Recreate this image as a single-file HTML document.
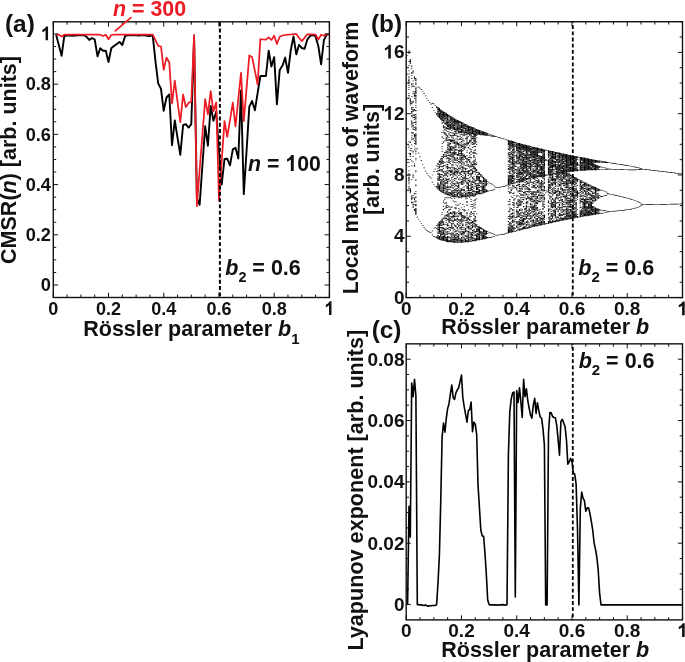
<!DOCTYPE html>
<html><head><meta charset="utf-8"><title>Figure</title>
<style>svg{will-change:transform;}html,body{margin:0;padding:0;background:#fff;}body{width:685px;height:662px;overflow:hidden;font-family:"Liberation Sans",sans-serif;}svg{display:block;}</style>
</head><body>
<svg width="685" height="662" viewBox="0 0 685 662" font-family="Liberation Sans, sans-serif" font-weight="bold">
<rect width="685" height="662" fill="#fff"/>
<g transform="translate(406.2,21.7)" fill="none" stroke="#000"><path transform="translate(0,0.0) scale(1,0.5)" d="M2.76 57.8v2.4m0 0.6v1.4m0 0.6v1.4m0 14.6v1.4m0 6.6v1.4m0 9.6v1.4m0 4.6v1.4m0 4.6v1.4m0 0.6v1.4m0 1.6v1.4m0 0.6v3.4m0 0.6v2.4m0 0.6v1.4m0 1.6v1.4m0 2.6v1.4m0 2.6v1.4m0 6.6v1.4m0 2.6v2.4m0 2.6v1.4m0 86.6v1.4m0 6.6v1.4m0 1.6v1.4m0 10.6v1.4m0 16.6v1.4m0 6.6v1.4m0 7.6v1.4m0 3.6v1.4m0 1.6v1.4m0 0.6v1.4m0 1.6v5.4m0 0.6v2.4m0 1.6v1.4m0 1.6v1.4m0 3.6v1.4m0 1.6v1.4m0 0.6v1.4M4.14 74.8v1.4m0 0.6v4.4m0 0.6v2.4m0 69.6v1.4m0 0.6v3.4m0 0.6v2.4m0 0.6v1.4m0 1.6v1.4m0 72.6v2.4m0 11.6v1.4m0 1.6v1.4m0 4.6v4.4m0 1.6v1.4m0 4.6v1.4m0 57.6v7.4m0 0.6v1.4M5.53 87.8v2.4m0 2.6v1.4m0 6.6v1.4m0 0.6v1.4m0 2.6v1.4m0 4.6v1.4m0 9.6v1.4m0 0.6v1.4m0 2.6v1.4m0 17.6v1.4m0 9.6v1.4m0 1.6v2.4m0 5.6v1.4m0 0.6v1.4m0 0.6v1.4m0 2.6v3.4m0 0.6v1.4m0 2.6v1.4m0 0.6v1.4m0 7.6v1.4m0 0.6v2.4m0 1.6v1.4m0 0.6v1.4m0 2.6v1.4m0 9.6v2.4m0 4.6v1.4m0 2.6v1.4m0 1.6v1.4m0 9.6v1.4m0 5.6v1.4m0 3.6v1.4m0 18.6v1.4m0 8.6v1.4m0 25.6v1.4m0 31.6v1.4m0 0.6v2.4m0 0.6v3.4m0 3.6v3.4M6.91 97.8v2.4m0 1.6v1.4m0 14.6v1.4m0 4.6v1.4m0 2.6v2.4m0 9.6v1.4m0 1.6v1.4m0 14.6v3.4m0 8.6v1.4m0 2.6v1.4m0 0.6v1.4m0 0.6v1.4m0 5.6v1.4m0 0.6v1.4m0 1.6v1.4m0 9.6v2.4m0 2.6v2.4m0 0.6v1.4m0 2.6v2.4m0 5.6v1.4m0 0.6v1.4m0 7.6v1.4m0 1.6v1.4m0 21.6v1.4m0 1.6v1.4m0 5.6v1.4m0 9.6v1.4m0 24.6v2.4m0 1.6v2.4m0 34.6v1.4m0 3.6v1.4m0 8.6v1.4m0 1.6v2.4m0 1.6v1.4m0 0.6v1.4M8.29 109.8v1.4m0 0.6v3.4m0 13.6v1.4m0 9.6v1.4m0 2.6v1.4m0 0.6v4.4m0 2.6v1.4m0 20.6v3.4m0 7.6v1.4m0 0.6v1.4m0 1.6v2.4m0 1.6v1.4m0 4.6v1.4m0 8.6v1.4m0 2.6v1.4m0 8.6v1.4m0 0.6v3.4m0 1.6v1.4m0 4.6v1.4m0 3.6v1.4m0 5.6v1.4m0 4.6v1.4m0 26.6v1.4m0 1.6v3.4m0 52.6v2.4m0 6.6v1.4m0 0.6v3.4m0 2.6v1.4m0 4.6v1.4m0 7.6v3.4M9.67 112.8v1.4m0 0.6v1.4m0 0.6v2.4m0 2.6v1.4m0 0.6v2.4m0 5.6v3.4m0 0.6v1.4m0 0.6v7.4m0 1.6v3.4m0 1.6v2.4m0 1.6v2.4m0 1.6v1.4m0 0.6v1.4m0 3.6v1.4m0 2.6v1.4m0 4.6v2.4m0 5.6v2.4m0 1.6v1.4m0 0.6v1.4m0 0.6v1.4m0 1.6v1.4m0 1.6v1.4m0 0.6v2.4m0 1.6v1.4m0 3.6v2.4m0 0.6v3.4m0 0.6v1.4m0 4.6v1.4m0 0.6v1.4m0 0.6v2.4m0 0.6v1.4m0 0.6v1.4m0 0.6v2.4m0 0.6v1.4m0 0.6v2.4m0 0.6v4.4m0 6.6v1.4m0 3.6v1.4m0 0.6v1.4m0 2.6v1.4m0 7.6v1.4m0 1.6v1.4m0 20.6v1.4m0 0.6v1.4m0 14.6v2.4m0 7.6v1.4m0 0.6v1.4m0 9.6v1.4m0 3.6v1.4m0 4.6v1.4m0 0.6v1.4m0 4.6v1.4m0 0.6v1.4m0 3.6v4.4m0 3.6v13.4M30.39 168.8v1.4m0 0.6v1.4m0 10.6v1.4m0 0.6v1.4m0 101.6v1.4m0 9.6v1.4m0 28.6v1.4m0 1.6v1.4m0 73.6v1.4m0 4.6v1.4m0 15.6v1.4m0 0.6v1.4M31.77 170.8v7.4m0 0.6v2.4m0 0.6v4.4m0 0.6v3.4m0 92.6v3.4m0 2.6v1.4m0 2.6v1.4m0 2.6v1.4m0 1.6v1.4m0 1.6v1.4m0 0.6v1.4m0 3.6v1.4m0 1.6v3.4m0 0.6v1.4m0 3.6v5.4m0 0.6v3.4m0 0.6v3.4m0 68.6v2.4m0 0.6v1.4m0 1.6v1.4m0 0.6v1.4m0 0.6v3.4m0 2.6v1.4m0 0.6v1.4m0 0.6v1.4m0 1.6v2.4m0 0.6v5.4M33.16 172.8v7.4m0 1.6v11.4m0 84.6v4.4m0 2.6v1.4m0 1.6v2.4m0 0.6v2.4m0 2.6v3.4m0 3.6v1.4m0 0.6v3.4m0 0.6v1.4m0 0.6v2.4m0 0.6v2.4m0 0.6v1.4m0 7.6v1.4m0 0.6v10.4m0 61.6v4.4m0 0.6v5.4m0 0.6v3.4m0 0.6v6.4m0 0.6v2.4m0 4.6v7.4M34.54 175.8v12.4m0 0.6v2.4m0 0.6v4.4m0 77.6v2.4m0 1.6v3.4m0 0.6v1.4m0 0.6v1.4m0 0.6v1.4m0 1.6v1.4m0 4.6v1.4m0 1.6v1.4m0 5.6v2.4m0 1.6v3.4m0 2.6v1.4m0 1.6v2.4m0 0.6v4.4m0 0.6v1.4m0 0.6v2.4m0 1.6v2.4m0 1.6v4.4m0 57.6v1.4m0 0.6v2.4m0 0.6v3.4m0 0.6v1.4m0 2.6v2.4m0 3.6v1.4m0 0.6v2.4m0 0.6v1.4m0 0.6v5.4m0 0.6v1.4m0 0.6v1.4m0 0.6v3.4M35.92 177.8v6.4m0 0.6v14.4m0 2.6v2.4m0 16.6v1.4m0 7.6v2.4m0 10.6v1.4m0 4.6v1.4m0 3.6v1.4m0 3.6v1.4m0 8.6v2.4m0 1.6v2.4m0 0.6v4.4m0 0.6v3.4m0 4.6v2.4m0 3.6v4.4m0 0.6v1.4m0 3.6v2.4m0 3.6v1.4m0 2.6v1.4m0 0.6v1.4m0 0.6v1.4m0 1.6v1.4m0 0.6v1.4m0 0.6v1.4m0 2.6v2.4m0 0.6v1.4m0 1.6v1.4m0 0.6v4.4m0 38.6v1.4m0 2.6v1.4m0 7.6v2.4m0 0.6v6.4m0 2.6v2.4m0 2.6v3.4m0 1.6v2.4m0 1.6v1.4m0 0.6v2.4m0 0.6v2.4m0 1.6v1.4m0 0.6v7.4M37.30 179.8v10.4m0 0.6v1.4m0 0.6v1.4m0 1.6v3.4m0 0.6v2.4m0 4.6v1.4m0 0.6v1.4m0 0.6v2.4m0 4.6v1.4m0 2.6v1.4m0 9.6v1.4m0 5.6v2.4m0 22.6v3.4m0 0.6v1.4m0 0.6v1.4m0 6.6v1.4m0 1.6v2.4m0 2.6v1.4m0 0.6v1.4m0 2.6v1.4m0 4.6v1.4m0 0.6v1.4m0 4.6v1.4m0 0.6v1.4m0 2.6v1.4m0 0.6v2.4m0 1.6v1.4m0 1.6v1.4m0 1.6v1.4m0 0.6v2.4m0 0.6v2.4m0 0.6v2.4m0 0.6v4.4m0 0.6v2.4m0 14.6v1.4m0 1.6v1.4m0 6.6v1.4m0 4.6v2.4m0 14.6v1.4m0 0.6v1.4m0 4.6v1.4m0 0.6v2.4m0 0.6v2.4m0 4.6v3.4m0 1.6v1.4m0 0.6v1.4m0 0.6v4.4m0 0.6v1.4m0 1.6v9.4M38.68 180.8v2.4m0 0.6v7.4m0 0.6v4.4m0 1.6v1.4m0 2.6v3.4m0 3.6v1.4m0 1.6v1.4m0 1.6v2.4m0 3.6v2.4m0 0.6v2.4m0 11.6v1.4m0 21.6v2.4m0 2.6v1.4m0 1.6v1.4m0 10.6v1.4m0 4.6v1.4m0 11.6v1.4m0 1.6v3.4m0 0.6v1.4m0 3.6v1.4m0 3.6v1.4m0 1.6v2.4m0 0.6v3.4m0 0.6v2.4m0 0.6v1.4m0 0.6v3.4m0 2.6v1.4m0 2.6v3.4m0 6.6v1.4m0 1.6v1.4m0 6.6v1.4m0 8.6v1.4m0 13.6v2.4m0 1.6v1.4m0 0.6v1.4m0 9.6v1.4m0 6.6v1.4m0 0.6v3.4m0 1.6v1.4m0 1.6v1.4m0 0.6v1.4m0 0.6v7.4m0 0.6v1.4m0 0.6v2.4M40.06 182.8v7.4m0 0.6v1.4m0 0.6v1.4m0 1.6v2.4m0 0.6v1.4m0 0.6v6.4m0 3.6v4.4m0 1.6v1.4m0 5.6v1.4m0 0.6v1.4m0 0.6v1.4m0 1.6v1.4m0 0.6v2.4m0 0.6v1.4m0 0.6v1.4m0 18.6v2.4m0 0.6v2.4m0 2.6v1.4m0 0.6v3.4m0 2.6v1.4m0 4.6v1.4m0 4.6v1.4m0 1.6v1.4m0 1.6v1.4m0 4.6v2.4m0 1.6v1.4m0 0.6v1.4m0 0.6v1.4m0 0.6v1.4m0 3.6v1.4m0 0.6v2.4m0 0.6v1.4m0 1.6v1.4m0 0.6v1.4m0 5.6v2.4m0 1.6v2.4m0 1.6v1.4m0 0.6v4.4m0 0.6v1.4m0 4.6v1.4m0 8.6v1.4m0 1.6v1.4m0 1.6v1.4m0 0.6v1.4m0 0.6v2.4m0 12.6v3.4m0 2.6v3.4m0 1.6v1.4m0 2.6v1.4m0 3.6v1.4m0 4.6v1.4m0 1.6v1.4m0 3.6v1.4m0 0.6v1.4m0 1.6v1.4m0 4.6v3.4m0 0.6v5.4M41.44 184.8v7.4m0 0.6v4.4m0 0.6v1.4m0 0.6v3.4m0 0.6v2.4m0 0.6v4.4m0 1.6v2.4m0 3.6v1.4m0 6.6v1.4m0 0.6v1.4m0 1.6v1.4m0 2.6v2.4m0 3.6v1.4m0 2.6v1.4m0 0.6v1.4m0 1.6v1.4m0 1.6v1.4m0 0.6v1.4m0 1.6v1.4m0 1.6v2.4m0 2.6v1.4m0 2.6v1.4m0 0.6v1.4m0 5.6v1.4m0 3.6v2.4m0 1.6v3.4m0 0.6v2.4m0 2.6v1.4m0 1.6v1.4m0 0.6v1.4m0 3.6v1.4m0 0.6v1.4m0 3.6v2.4m0 1.6v2.4m0 0.6v1.4m0 0.6v1.4m0 2.6v2.4m0 0.6v2.4m0 1.6v1.4m0 1.6v2.4m0 1.6v2.4m0 0.6v2.4m0 4.6v1.4m0 13.6v1.4m0 2.6v1.4m0 6.6v1.4m0 0.6v1.4m0 2.6v1.4m0 0.6v1.4m0 0.6v1.4m0 3.6v1.4m0 0.6v1.4m0 6.6v1.4m0 0.6v3.4m0 3.6v2.4m0 3.6v1.4m0 1.6v1.4m0 0.6v2.4m0 2.6v5.4m0 0.6v6.4M42.83 186.8v3.4m0 1.6v1.4m0 2.6v2.4m0 0.6v2.4m0 0.6v1.4m0 0.6v7.4m0 0.6v4.4m0 3.6v1.4m0 1.6v1.4m0 0.6v1.4m0 4.6v1.4m0 2.6v3.4m0 3.6v2.4m0 0.6v2.4m0 0.6v1.4m0 0.6v1.4m0 2.6v4.4m0 1.6v1.4m0 0.6v1.4m0 2.6v3.4m0 2.6v4.4m0 0.6v3.4m0 0.6v2.4m0 7.6v2.4m0 3.6v3.4m0 3.6v1.4m0 7.6v1.4m0 0.6v1.4m0 1.6v1.4m0 10.6v1.4m0 0.6v1.4m0 1.6v1.4m0 4.6v3.4m0 0.6v3.4m0 3.6v1.4m0 15.6v2.4m0 3.6v1.4m0 0.6v1.4m0 4.6v3.4m0 0.6v1.4m0 0.6v1.4m0 0.6v1.4m0 0.6v1.4m0 0.6v7.4m0 4.6v1.4m0 2.6v2.4m0 1.6v1.4m0 3.6v1.4m0 1.6v1.4m0 5.6v2.4m0 4.6v4.4M44.21 188.8v3.4m0 0.6v2.4m0 0.6v2.4m0 1.6v3.4m0 1.6v1.4m0 0.6v3.4m0 0.6v2.4m0 0.6v2.4m0 4.6v1.4m0 4.6v2.4m0 6.6v3.4m0 0.6v1.4m0 1.6v2.4m0 3.6v1.4m0 0.6v6.4m0 0.6v1.4m0 0.6v3.4m0 2.6v2.4m0 0.6v1.4m0 3.6v2.4m0 3.6v1.4m0 1.6v1.4m0 7.6v1.4m0 0.6v1.4m0 1.6v1.4m0 0.6v3.4m0 2.6v1.4m0 0.6v1.4m0 9.6v1.4m0 4.6v1.4m0 3.6v1.4m0 0.6v1.4m0 2.6v1.4m0 4.6v1.4m0 0.6v3.4m0 1.6v1.4m0 1.6v1.4m0 19.6v1.4m0 1.6v1.4m0 4.6v3.4m0 5.6v1.4m0 1.6v1.4m0 1.6v2.4m0 3.6v1.4m0 7.6v2.4m0 2.6v2.4m0 4.6v1.4m0 1.6v1.4m0 3.6v1.4m0 0.6v1.4m0 1.6v1.4m0 0.6v3.4M45.59 189.8v10.4m0 1.6v5.4m0 0.6v4.4m0 0.6v1.4m0 2.6v1.4m0 3.6v1.4m0 3.6v1.4m0 1.6v2.4m0 2.6v1.4m0 0.6v4.4m0 7.6v1.4m0 1.6v1.4m0 0.6v4.4m0 3.6v1.4m0 0.6v1.4m0 0.6v1.4m0 0.6v1.4m0 0.6v1.4m0 2.6v1.4m0 2.6v1.4m0 5.6v1.4m0 1.6v1.4m0 1.6v1.4m0 3.6v2.4m0 0.6v4.4m0 1.6v1.4m0 4.6v2.4m0 2.6v1.4m0 2.6v1.4m0 0.6v1.4m0 2.6v2.4m0 1.6v2.4m0 5.6v4.4m0 0.6v4.4m0 0.6v2.4m0 2.6v1.4m0 15.6v2.4m0 9.6v3.4m0 3.6v2.4m0 0.6v1.4m0 2.6v1.4m0 0.6v1.4m0 3.6v1.4m0 0.6v1.4m0 0.6v1.4m0 0.6v3.4m0 0.6v1.4m0 7.6v1.4m0 0.6v2.4m0 1.6v1.4m0 0.6v2.4m0 1.6v7.4M46.97 191.8v6.4m0 0.6v4.4m0 0.6v2.4m0 0.6v9.4m0 5.6v1.4m0 0.6v1.4m0 1.6v2.4m0 2.6v1.4m0 0.6v1.4m0 1.6v3.4m0 1.6v2.4m0 5.6v3.4m0 0.6v1.4m0 2.6v1.4m0 1.6v4.4m0 0.6v2.4m0 0.6v2.4m0 0.6v1.4m0 2.6v1.4m0 1.6v1.4m0 0.6v1.4m0 3.6v2.4m0 2.6v1.4m0 1.6v1.4m0 2.6v1.4m0 2.6v4.4m0 1.6v1.4m0 0.6v1.4m0 4.6v1.4m0 2.6v1.4m0 1.6v2.4m0 1.6v1.4m0 3.6v2.4m0 2.6v2.4m0 1.6v3.4m0 1.6v5.4m0 6.6v1.4m0 19.6v1.4m0 0.6v1.4m0 1.6v1.4m0 1.6v4.4m0 0.6v1.4m0 3.6v1.4m0 0.6v2.4m0 1.6v2.4m0 5.6v1.4m0 0.6v2.4m0 2.6v1.4m0 2.6v1.4m0 0.6v1.4m0 0.6v1.4m0 0.6v1.4m0 1.6v1.4m0 1.6v4.4m0 0.6v3.4M48.35 193.8v8.4m0 0.6v1.4m0 0.6v1.4m0 0.6v2.4m0 1.6v6.4m0 1.6v1.4m0 2.6v1.4m0 0.6v3.4m0 7.6v2.4m0 1.6v4.4m0 3.6v1.4m0 1.6v1.4m0 1.6v2.4m0 1.6v2.4m0 0.6v1.4m0 0.6v2.4m0 0.6v1.4m0 3.6v2.4m0 0.6v1.4m0 0.6v2.4m0 2.6v1.4m0 9.6v1.4m0 0.6v1.4m0 0.6v1.4m0 1.6v1.4m0 0.6v2.4m0 0.6v1.4m0 0.6v1.4m0 5.6v2.4m0 1.6v1.4m0 4.6v1.4m0 0.6v1.4m0 3.6v1.4m0 3.6v1.4m0 0.6v1.4m0 1.6v2.4m0 1.6v4.4m0 0.6v2.4m0 1.6v1.4m0 5.6v1.4m0 10.6v1.4m0 5.6v1.4m0 0.6v2.4m0 0.6v2.4m0 1.6v3.4m0 2.6v4.4m0 7.6v1.4m0 0.6v1.4m0 5.6v1.4m0 3.6v1.4m0 4.6v2.4m0 0.6v2.4m0 0.6v1.4m0 0.6v3.4m0 0.6v4.4M49.73 194.8v1.4m0 0.6v9.4m0 1.6v2.4m0 1.6v2.4m0 0.6v3.4m0 0.6v2.4m0 0.6v1.4m0 0.6v1.4m0 1.6v1.4m0 5.6v1.4m0 4.6v1.4m0 0.6v2.4m0 0.6v1.4m0 0.6v1.4m0 0.6v3.4m0 2.6v3.4m0 2.6v2.4m0 0.6v2.4m0 7.6v1.4m0 0.6v2.4m0 3.6v1.4m0 2.6v1.4m0 5.6v2.4m0 1.6v1.4m0 0.6v2.4m0 0.6v1.4m0 2.6v1.4m0 0.6v1.4m0 3.6v2.4m0 4.6v1.4m0 2.6v1.4m0 1.6v2.4m0 3.6v1.4m0 0.6v1.4m0 0.6v1.4m0 1.6v2.4m0 2.6v1.4m0 1.6v3.4m0 8.6v1.4m0 4.6v1.4m0 3.6v1.4m0 0.6v2.4m0 6.6v2.4m0 1.6v1.4m0 1.6v1.4m0 4.6v1.4m0 0.6v1.4m0 8.6v1.4m0 0.6v2.4m0 5.6v1.4m0 0.6v2.4m0 2.6v1.4m0 0.6v1.4m0 0.6v1.4m0 1.6v3.4m0 0.6v2.4m0 0.6v1.4m0 0.6v2.4M51.12 196.8v6.4m0 0.6v1.4m0 0.6v1.4m0 0.6v2.4m0 0.6v6.4m0 0.6v1.4m0 3.6v1.4m0 3.6v2.4m0 1.6v1.4m0 2.6v1.4m0 2.6v1.4m0 0.6v4.4m0 9.6v1.4m0 7.6v3.4m0 2.6v1.4m0 0.6v2.4m0 1.6v1.4m0 2.6v1.4m0 4.6v1.4m0 1.6v1.4m0 3.6v2.4m0 1.6v4.4m0 0.6v1.4m0 4.6v2.4m0 7.6v2.4m0 0.6v1.4m0 3.6v1.4m0 0.6v1.4m0 1.6v1.4m0 2.6v3.4m0 1.6v7.4m0 0.6v1.4m0 15.6v1.4m0 13.6v1.4m0 4.6v1.4m0 0.6v1.4m0 1.6v2.4m0 0.6v1.4m0 1.6v1.4m0 2.6v1.4m0 0.6v1.4m0 4.6v2.4m0 0.6v1.4m0 2.6v1.4m0 3.6v2.4m0 2.6v1.4m0 0.6v2.4m0 1.6v6.4m0 0.6v1.4M52.50 197.8v8.4m0 0.6v2.4m0 0.6v2.4m0 0.6v3.4m0 0.6v1.4m0 0.6v4.4m0 5.6v1.4m0 4.6v1.4m0 6.6v5.4m0 1.6v1.4m0 0.6v1.4m0 3.6v3.4m0 0.6v1.4m0 0.6v1.4m0 0.6v3.4m0 6.6v1.4m0 2.6v2.4m0 2.6v1.4m0 6.6v1.4m0 0.6v1.4m0 1.6v1.4m0 0.6v1.4m0 1.6v1.4m0 3.6v1.4m0 5.6v2.4m0 5.6v1.4m0 0.6v2.4m0 0.6v6.4m0 2.6v1.4m0 0.6v1.4m0 1.6v2.4m0 0.6v1.4m0 3.6v2.4m0 0.6v1.4m0 12.6v1.4m0 5.6v1.4m0 3.6v2.4m0 2.6v2.4m0 2.6v2.4m0 4.6v1.4m0 1.6v1.4m0 1.6v1.4m0 3.6v1.4m0 0.6v2.4m0 5.6v1.4m0 2.6v1.4m0 3.6v2.4m0 0.6v4.4m0 0.6v2.4m0 0.6v2.4m0 1.6v2.4M53.88 198.8v4.4m0 2.6v1.4m0 0.6v1.4m0 0.6v7.4m0 1.6v4.4m0 2.6v1.4m0 2.6v1.4m0 1.6v3.4m0 4.6v1.4m0 2.6v1.4m0 1.6v1.4m0 2.6v1.4m0 2.6v4.4m0 2.6v2.4m0 1.6v1.4m0 1.6v1.4m0 0.6v2.4m0 0.6v1.4m0 1.6v1.4m0 0.6v3.4m0 3.6v1.4m0 1.6v1.4m0 1.6v2.4m0 5.6v1.4m0 0.6v2.4m0 0.6v1.4m0 4.6v1.4m0 2.6v1.4m0 3.6v2.4m0 10.6v1.4m0 1.6v1.4m0 0.6v2.4m0 0.6v1.4m0 0.6v4.4m0 1.6v2.4m0 10.6v1.4m0 11.6v1.4m0 3.6v4.4m0 0.6v1.4m0 7.6v1.4m0 0.6v3.4m0 2.6v2.4m0 1.6v1.4m0 2.6v2.4m0 0.6v1.4m0 3.6v1.4m0 0.6v1.4m0 1.6v1.4m0 8.6v2.4m0 0.6v3.4m0 0.6v1.4M55.26 200.8v5.4m0 0.6v6.4m0 1.6v8.4m0 1.6v1.4m0 4.6v1.4m0 2.6v1.4m0 2.6v2.4m0 2.6v1.4m0 1.6v2.4m0 0.6v2.4m0 2.6v3.4m0 0.6v2.4m0 0.6v3.4m0 0.6v3.4m0 1.6v2.4m0 0.6v1.4m0 0.6v2.4m0 1.6v1.4m0 1.6v1.4m0 1.6v1.4m0 2.6v2.4m0 3.6v1.4m0 1.6v3.4m0 2.6v1.4m0 2.6v2.4m0 3.6v1.4m0 2.6v3.4m0 0.6v1.4m0 0.6v1.4m0 7.6v3.4m0 0.6v1.4m0 1.6v1.4m0 1.6v2.4m0 0.6v4.4m0 0.6v1.4m0 18.6v1.4m0 7.6v1.4m0 0.6v1.4m0 0.6v2.4m0 0.6v2.4m0 1.6v1.4m0 0.6v2.4m0 1.6v1.4m0 0.6v1.4m0 0.6v1.4m0 6.6v2.4m0 1.6v1.4m0 0.6v1.4m0 2.6v1.4m0 1.6v1.4m0 0.6v2.4m0 3.6v2.4m0 0.6v2.4m0 0.6v5.4M56.64 201.8v3.4m0 0.6v8.4m0 0.6v7.4m0 2.6v1.4m0 1.6v1.4m0 3.6v1.4m0 1.6v2.4m0 1.6v1.4m0 3.6v1.4m0 1.6v3.4m0 1.6v1.4m0 2.6v2.4m0 4.6v1.4m0 0.6v1.4m0 0.6v1.4m0 0.6v1.4m0 0.6v1.4m0 0.6v1.4m0 0.6v1.4m0 2.6v1.4m0 0.6v1.4m0 2.6v1.4m0 1.6v1.4m0 0.6v2.4m0 0.6v2.4m0 0.6v1.4m0 0.6v2.4m0 5.6v1.4m0 2.6v1.4m0 0.6v1.4m0 0.6v1.4m0 0.6v1.4m0 0.6v2.4m0 0.6v1.4m0 0.6v2.4m0 5.6v1.4m0 1.6v1.4m0 0.6v1.4m0 4.6v2.4m0 0.6v5.4m0 13.6v1.4m0 8.6v1.4m0 10.6v3.4m0 0.6v2.4m0 1.6v1.4m0 0.6v1.4m0 0.6v1.4m0 3.6v5.4m0 1.6v1.4m0 2.6v1.4m0 2.6v6.4m0 0.6v1.4m0 2.6v1.4m0 0.6v1.4m0 2.6v3.4m0 0.6v2.4M58.02 203.8v5.4m0 0.6v5.4m0 2.6v1.4m0 0.6v3.4m0 0.6v4.4m0 9.6v1.4m0 3.6v1.4m0 0.6v1.4m0 1.6v2.4m0 0.6v2.4m0 0.6v2.4m0 9.6v6.4m0 2.6v1.4m0 5.6v2.4m0 1.6v1.4m0 4.6v1.4m0 0.6v1.4m0 3.6v2.4m0 0.6v3.4m0 4.6v1.4m0 0.6v3.4m0 1.6v2.4m0 2.6v1.4m0 6.6v1.4m0 3.6v4.4m0 1.6v1.4m0 3.6v1.4m0 0.6v3.4m0 18.6v1.4m0 3.6v1.4m0 0.6v1.4m0 1.6v1.4m0 6.6v5.4m0 0.6v1.4m0 2.6v1.4m0 12.6v1.4m0 2.6v1.4m0 1.6v1.4m0 0.6v2.4m0 0.6v1.4m0 2.6v1.4m0 2.6v2.4m0 0.6v1.4m0 1.6v3.4M59.40 204.8v3.4m0 0.6v2.4m0 1.6v3.4m0 0.6v2.4m0 0.6v3.4m0 2.6v1.4m0 5.6v1.4m0 9.6v1.4m0 0.6v1.4m0 2.6v1.4m0 0.6v1.4m0 15.6v2.4m0 0.6v2.4m0 4.6v1.4m0 6.6v1.4m0 4.6v1.4m0 0.6v2.4m0 1.6v2.4m0 2.6v1.4m0 0.6v3.4m0 0.6v1.4m0 0.6v1.4m0 0.6v2.4m0 1.6v2.4m0 6.6v1.4m0 11.6v1.4m0 1.6v3.4m0 0.6v1.4m0 0.6v2.4m0 2.6v1.4m0 21.6v1.4m0 11.6v1.4m0 0.6v1.4m0 3.6v1.4m0 3.6v1.4m0 2.6v2.4m0 4.6v4.4m0 0.6v3.4m0 5.6v1.4m0 0.6v1.4m0 3.6v7.4M60.79 205.8v2.4m0 0.6v4.4m0 0.6v1.4m0 0.6v3.4m0 0.6v7.4m0 2.6v6.4m0 1.6v2.4m0 0.6v1.4m0 0.6v3.4m0 0.6v1.4m0 9.6v1.4m0 1.6v1.4m0 4.6v1.4m0 4.6v3.4m0 1.6v2.4m0 0.6v2.4m0 2.6v2.4m0 4.6v1.4m0 4.6v1.4m0 1.6v1.4m0 9.6v2.4m0 4.6v5.4m0 3.6v2.4m0 0.6v2.4m0 3.6v1.4m0 2.6v1.4m0 0.6v1.4m0 0.6v4.4m0 1.6v2.4m0 4.6v3.4m0 3.6v2.4m0 12.6v1.4m0 0.6v2.4m0 2.6v1.4m0 2.6v2.4m0 0.6v1.4m0 0.6v2.4m0 1.6v2.4m0 1.6v1.4m0 2.6v1.4m0 0.6v1.4m0 5.6v2.4m0 3.6v1.4m0 2.6v1.4m0 0.6v1.4m0 0.6v2.4m0 2.6v4.4M62.17 207.8v11.4m0 0.6v2.4m0 0.6v2.4m0 3.6v1.4m0 10.6v1.4m0 0.6v2.4m0 5.6v2.4m0 17.6v1.4m0 2.6v3.4m0 6.6v1.4m0 1.6v2.4m0 6.6v1.4m0 0.6v3.4m0 0.6v2.4m0 1.6v1.4m0 5.6v1.4m0 1.6v2.4m0 2.6v2.4m0 0.6v3.4m0 0.6v1.4m0 0.6v5.4m0 0.6v2.4m0 1.6v3.4m0 1.6v2.4m0 0.6v1.4m0 25.6v1.4m0 13.6v1.4m0 0.6v3.4m0 3.6v1.4m0 0.6v2.4m0 3.6v2.4m0 0.6v2.4m0 0.6v1.4m0 3.6v3.4m0 1.6v1.4m0 0.6v1.4m0 0.6v4.4m0 0.6v1.4m0 0.6v2.4m0 0.6v3.4M63.55 208.8v5.4m0 0.6v5.4m0 0.6v3.4m0 0.6v3.4m0 8.6v5.4m0 5.6v1.4m0 4.6v1.4m0 5.6v1.4m0 0.6v1.4m0 3.6v1.4m0 1.6v1.4m0 2.6v1.4m0 1.6v4.4m0 5.6v2.4m0 1.6v1.4m0 3.6v3.4m0 3.6v2.4m0 4.6v1.4m0 3.6v2.4m0 0.6v2.4m0 5.6v1.4m0 5.6v1.4m0 1.6v2.4m0 1.6v3.4m0 0.6v2.4m0 0.6v2.4m0 0.6v1.4m0 31.6v1.4m0 2.6v1.4m0 0.6v1.4m0 3.6v3.4m0 3.6v2.4m0 0.6v1.4m0 2.6v1.4m0 1.6v2.4m0 1.6v1.4m0 2.6v1.4m0 0.6v1.4m0 2.6v1.4m0 3.6v2.4m0 1.6v1.4m0 0.6v1.4m0 0.6v1.4M64.93 209.8v7.4m0 0.6v2.4m0 0.6v4.4m0 0.6v1.4m0 0.6v2.4m0 1.6v1.4m0 0.6v2.4m0 0.6v1.4m0 1.6v1.4m0 2.6v1.4m0 9.6v2.4m0 1.6v2.4m0 3.6v1.4m0 4.6v2.4m0 8.6v2.4m0 0.6v1.4m0 1.6v3.4m0 3.6v3.4m0 4.6v2.4m0 0.6v1.4m0 0.6v2.4m0 8.6v1.4m0 1.6v2.4m0 0.6v1.4m0 0.6v1.4m0 1.6v8.4m0 2.6v2.4m0 0.6v1.4m0 0.6v3.4m0 5.6v1.4m0 2.6v1.4m0 4.6v1.4m0 2.6v1.4m0 8.6v1.4m0 0.6v2.4m0 1.6v1.4m0 2.6v1.4m0 7.6v1.4m0 1.6v3.4m0 2.6v1.4m0 3.6v2.4m0 0.6v1.4m0 4.6v1.4m0 0.6v4.4m0 0.6v5.4m0 0.6v2.4m0 1.6v2.4M66.31 210.8v14.4m0 3.6v1.4m0 1.6v3.4m0 5.6v2.4m0 1.6v1.4m0 4.6v1.4m0 9.6v1.4m0 16.6v1.4m0 3.6v3.4m0 0.6v1.4m0 3.6v1.4m0 1.6v1.4m0 0.6v1.4m0 0.6v4.4m0 5.6v3.4m0 3.6v1.4m0 0.6v2.4m0 2.6v2.4m0 1.6v1.4m0 0.6v1.4m0 2.6v1.4m0 1.6v1.4m0 0.6v1.4m0 1.6v3.4m0 0.6v2.4m0 15.6v1.4m0 2.6v1.4m0 3.6v1.4m0 7.6v1.4m0 14.6v4.4m0 1.6v1.4m0 0.6v1.4m0 0.6v4.4m0 3.6v2.4m0 1.6v2.4m0 1.6v2.4m0 0.6v1.4m0 1.6v1.4m0 0.6v1.4m0 1.6v3.4M67.69 211.8v3.4m0 0.6v1.4m0 0.6v3.4m0 0.6v6.4m0 0.6v3.4m0 0.6v2.4m0 0.6v1.4m0 0.6v1.4m0 0.6v1.4m0 1.6v3.4m0 2.6v1.4m0 7.6v1.4m0 1.6v3.4m0 2.6v3.4m0 0.6v1.4m0 4.6v1.4m0 1.6v3.4m0 0.6v3.4m0 1.6v6.4m0 3.6v2.4m0 7.6v1.4m0 2.6v1.4m0 0.6v2.4m0 2.6v3.4m0 6.6v1.4m0 1.6v1.4m0 2.6v1.4m0 0.6v2.4m0 2.6v1.4m0 0.6v2.4m0 0.6v1.4m0 6.6v1.4m0 5.6v1.4m0 2.6v1.4m0 2.6v1.4m0 6.6v1.4m0 1.6v1.4m0 1.6v2.4m0 5.6v1.4m0 0.6v2.4m0 0.6v1.4m0 1.6v3.4m0 2.6v2.4m0 4.6v1.4m0 0.6v1.4m0 0.6v1.4m0 1.6v2.4m0 3.6v1.4m0 2.6v2.4m0 1.6v3.4M69.07 213.8v2.4m0 0.6v4.4m0 0.6v8.4m0 1.6v1.4m0 0.6v1.4m0 0.6v4.4m0 0.6v1.4m0 0.6v1.4m0 4.6v2.4m0 4.6v2.4m0 3.6v2.4m0 7.6v1.4m0 1.6v1.4m0 1.6v2.4m0 2.6v2.4m0 0.6v1.4m0 4.6v3.4m0 0.6v1.4m0 0.6v2.4m0 1.6v1.4m0 1.6v1.4m0 10.6v2.4m0 0.6v1.4m0 1.6v2.4m0 0.6v1.4m0 1.6v1.4m0 8.6v1.4m0 1.6v1.4m0 0.6v3.4m0 0.6v1.4m0 5.6v1.4m0 1.6v1.4m0 2.6v1.4m0 2.6v1.4m0 4.6v1.4m0 5.6v1.4m0 8.6v2.4m0 0.6v1.4m0 0.6v1.4m0 1.6v3.4m0 3.6v3.4m0 0.6v1.4m0 0.6v1.4m0 0.6v1.4m0 5.6v3.4m0 2.6v1.4m0 0.6v1.4m0 4.6v1.4m0 0.6v4.4M70.46 214.8v5.4m0 0.6v2.4m0 0.6v2.4m0 0.6v1.4m0 3.6v1.4m0 6.6v1.4m0 3.6v1.4m0 17.6v1.4m0 16.6v1.4m0 1.6v1.4m0 8.6v1.4m0 0.6v2.4m0 1.6v1.4m0 5.6v6.4m0 0.6v1.4m0 0.6v1.4m0 5.6v1.4m0 1.6v3.4m0 0.6v6.4m0 1.6v4.4m0 0.6v2.4m0 7.6v1.4m0 28.6v1.4m0 12.6v1.4m0 5.6v1.4m0 0.6v1.4m0 0.6v1.4m0 3.6v4.4m0 0.6v2.4m0 2.6v1.4m0 0.6v6.4m0 0.6v5.4M71.84 215.8v10.4m0 74.6v2.4m0 1.6v2.4m0 1.6v7.4m0 0.6v1.4m0 4.6v2.4m0 0.6v3.4m0 1.6v3.4m0 0.6v2.4m0 1.6v6.4m0 63.6v2.4m0 0.6v7.4m0 0.6v1.4m0 1.6v4.4m0 0.6v4.4m0 0.6v4.4M73.22 216.8v9.4m0 75.6v4.4m0 2.6v1.4m0 0.6v5.4m0 0.6v3.4m0 0.6v1.4m0 1.6v1.4m0 1.6v2.4m0 1.6v1.4m0 2.6v1.4m0 0.6v5.4m0 0.6v2.4m0 64.6v3.4m0 0.6v9.4m0 0.6v3.4m0 0.6v1.4m0 0.6v7.4M74.60 217.8v2.4m0 0.6v3.4m0 0.6v2.4m0 77.6v3.4m0 0.6v1.4m0 6.6v5.4m0 0.6v1.4m0 4.6v2.4m0 5.6v2.4m0 2.6v3.4m0 65.6v4.4m0 3.6v5.4m0 1.6v2.4m0 3.6v1.4m0 1.6v1.4M75.98 218.8v8.4m0 80.6v1.4m0 0.6v2.4m0 6.6v1.4m0 1.6v2.4m0 0.6v1.4m0 1.6v1.4m0 0.6v6.4m0 0.6v3.4m0 1.6v2.4m0 68.6v1.4m0 0.6v1.4m0 3.6v1.4m0 0.6v3.4m0 0.6v10.4M77.36 219.8v7.4m0 83.6v4.4m0 0.6v5.4m0 1.6v2.4m0 1.6v1.4m0 0.6v9.4m0 0.6v4.4m0 71.6v7.4m0 0.6v1.4m0 0.6v1.4m0 0.6v8.4M78.75 220.8v7.4m0 85.6v4.4m0 0.6v3.4m0 1.6v1.4m0 0.6v3.4m0 0.6v2.4m0 1.6v4.4m0 0.6v3.4m0 74.6v5.4m0 0.6v5.4m0 0.6v6.4M80.13 221.8v2.4m0 0.6v3.4m0 87.6v6.4m0 0.6v5.4m0 7.6v5.4m0 76.6v8.4m0 3.6v4.4M81.51 222.8v2.4m0 0.6v2.4m0 90.6v1.4m0 3.6v1.4m0 11.6v1.4m0 0.6v1.4m0 78.6v1.4m0 2.6v1.4m0 6.6v2.4M102.23 236.8v4.4m0 0.6v5.4m0 2.6v1.4m0 1.6v1.4m0 0.6v1.4m0 5.6v2.4m0 0.6v1.4m0 1.6v1.4m0 2.6v1.4m0 4.6v1.4m0 0.6v1.4m0 3.6v1.4m0 2.6v1.4m0 2.6v3.4m0 4.6v1.4m0 4.6v1.4m0 0.6v1.4m0 0.6v1.4m0 0.6v1.4m0 0.6v12.4m0 2.6v1.4m0 2.6v1.4m0 3.6v1.4m0 18.6v1.4m0 5.6v1.4m0 11.6v1.4m0 8.6v1.4m0 2.6v1.4m0 4.6v2.4m0 3.6v1.4m0 3.6v1.4m0 0.6v1.4m0 0.6v9.4M103.61 237.8v11.4m0 0.6v3.4m0 0.6v4.4m0 2.6v2.4m0 1.6v2.4m0 0.6v3.4m0 1.6v3.4m0 0.6v5.4m0 3.6v1.4m0 0.6v2.4m0 0.6v1.4m0 0.6v1.4m0 0.6v2.4m0 1.6v3.4m0 0.6v2.4m0 1.6v4.4m0 0.6v6.4m0 0.6v3.4m0 0.6v1.4m0 0.6v1.4m0 0.6v1.4m0 3.6v1.4m0 6.6v4.4m0 10.6v2.4m0 1.6v1.4m0 3.6v1.4m0 0.6v1.4m0 4.6v1.4m0 1.6v1.4m0 1.6v1.4m0 0.6v1.4m0 4.6v2.4m0 0.6v2.4m0 1.6v1.4m0 0.6v1.4m0 4.6v1.4m0 0.6v3.4m0 0.6v1.4m0 1.6v2.4m0 0.6v2.4m0 0.6v6.4M104.99 237.8v8.4m0 0.6v3.4m0 1.6v2.4m0 4.6v1.4m0 1.6v4.4m0 2.6v1.4m0 0.6v2.4m0 0.6v2.4m0 3.6v2.4m0 0.6v1.4m0 0.6v1.4m0 3.6v3.4m0 0.6v2.4m0 1.6v1.4m0 4.6v1.4m0 1.6v4.4m0 0.6v2.4m0 0.6v10.4m0 6.6v1.4m0 1.6v1.4m0 0.6v2.4m0 1.6v1.4m0 7.6v1.4m0 21.6v2.4m0 7.6v1.4m0 0.6v1.4m0 2.6v1.4m0 0.6v1.4m0 0.6v1.4m0 5.6v1.4m0 1.6v1.4m0 1.6v2.4m0 0.6v3.4m0 0.6v1.4m0 0.6v7.4M106.38 238.8v5.4m0 0.6v4.4m0 0.6v1.4m0 0.6v1.4m0 1.6v1.4m0 0.6v1.4m0 1.6v1.4m0 0.6v1.4m0 1.6v3.4m0 1.6v6.4m0 0.6v2.4m0 0.6v6.4m0 1.6v2.4m0 0.6v2.4m0 0.6v2.4m0 0.6v1.4m0 0.6v1.4m0 1.6v1.4m0 1.6v1.4m0 0.6v1.4m0 0.6v6.4m0 1.6v4.4m0 1.6v2.4m0 1.6v1.4m0 1.6v1.4m0 2.6v1.4m0 7.6v1.4m0 6.6v1.4m0 8.6v1.4m0 3.6v1.4m0 7.6v1.4m0 0.6v1.4m0 3.6v3.4m0 2.6v3.4m0 0.6v1.4m0 2.6v3.4m0 0.6v2.4m0 5.6v3.4m0 0.6v2.4m0 1.6v2.4m0 0.6v2.4M107.76 239.8v3.4m0 0.6v3.4m0 0.6v3.4m0 0.6v8.4m0 0.6v3.4m0 1.6v1.4m0 0.6v1.4m0 0.6v3.4m0 1.6v2.4m0 0.6v1.4m0 0.6v2.4m0 0.6v6.4m0 0.6v1.4m0 0.6v3.4m0 1.6v2.4m0 0.6v1.4m0 0.6v3.4m0 1.6v1.4m0 0.6v2.4m0 1.6v2.4m0 0.6v2.4m0 1.6v4.4m0 2.6v1.4m0 0.6v1.4m0 1.6v1.4m0 8.6v2.4m0 2.6v1.4m0 5.6v1.4m0 0.6v2.4m0 2.6v1.4m0 0.6v3.4m0 0.6v2.4m0 1.6v1.4m0 3.6v1.4m0 2.6v1.4m0 2.6v1.4m0 1.6v1.4m0 0.6v1.4m0 1.6v1.4m0 3.6v1.4m0 0.6v1.4m0 1.6v1.4m0 1.6v1.4m0 0.6v1.4m0 2.6v5.4m0 1.6v2.4M109.14 240.8v2.4m0 2.6v1.4m0 0.6v2.4m0 9.6v1.4m0 5.6v1.4m0 10.6v1.4m0 0.6v1.4m0 1.6v1.4m0 2.6v2.4m0 4.6v2.4m0 3.6v1.4m0 11.6v1.4m0 6.6v1.4m0 7.6v2.4m0 20.6v1.4m0 35.6v1.4m0 2.6v1.4m0 3.6v1.4m0 11.6v1.4m0 4.6v1.4M110.52 241.8v1.4m0 0.6v4.4m0 0.6v7.4m0 0.6v2.4m0 2.6v1.4m0 2.6v5.4m0 0.6v1.4m0 0.6v1.4m0 2.6v3.4m0 0.6v1.4m0 0.6v1.4m0 3.6v1.4m0 4.6v1.4m0 0.6v1.4m0 1.6v1.4m0 1.6v2.4m0 1.6v2.4m0 0.6v2.4m0 2.6v1.4m0 2.6v3.4m0 4.6v2.4m0 2.6v1.4m0 0.6v1.4m0 0.6v1.4m0 10.6v1.4m0 0.6v1.4m0 9.6v1.4m0 0.6v1.4m0 1.6v1.4m0 3.6v1.4m0 3.6v1.4m0 0.6v1.4m0 0.6v1.4m0 0.6v1.4m0 2.6v1.4m0 1.6v1.4m0 0.6v1.4m0 6.6v1.4m0 0.6v1.4m0 0.6v1.4m0 3.6v4.4m0 4.6v2.4M111.90 242.8v6.4m0 0.6v5.4m0 0.6v6.4m0 0.6v1.4m0 1.6v1.4m0 2.6v5.4m0 0.6v3.4m0 0.6v1.4m0 1.6v2.4m0 5.6v2.4m0 0.6v2.4m0 1.6v1.4m0 0.6v1.4m0 0.6v5.4m0 0.6v2.4m0 0.6v2.4m0 1.6v2.4m0 0.6v2.4m0 1.6v1.4m0 1.6v1.4m0 0.6v1.4m0 9.6v1.4m0 0.6v1.4m0 5.6v1.4m0 6.6v1.4m0 0.6v1.4m0 0.6v2.4m0 2.6v2.4m0 0.6v3.4m0 0.6v1.4m0 6.6v4.4m0 0.6v1.4m0 0.6v2.4m0 0.6v2.4m0 7.6v1.4m0 0.6v1.4m0 1.6v4.4m0 2.6v1.4m0 1.6v3.4M113.28 242.8v7.4m0 0.6v5.4m0 1.6v4.4m0 0.6v1.4m0 0.6v1.4m0 0.6v6.4m0 0.6v2.4m0 1.6v1.4m0 1.6v2.4m0 0.6v1.4m0 4.6v1.4m0 2.6v2.4m0 0.6v3.4m0 0.6v3.4m0 0.6v1.4m0 1.6v1.4m0 0.6v1.4m0 2.6v3.4m0 0.6v3.4m0 0.6v1.4m0 1.6v2.4m0 1.6v2.4m0 1.6v2.4m0 1.6v1.4m0 0.6v1.4m0 2.6v1.4m0 5.6v1.4m0 4.6v2.4m0 1.6v2.4m0 1.6v1.4m0 0.6v2.4m0 6.6v4.4m0 3.6v1.4m0 0.6v1.4m0 1.6v1.4m0 0.6v1.4m0 3.6v1.4m0 1.6v2.4m0 0.6v1.4m0 0.6v4.4m0 2.6v1.4m0 2.6v1.4m0 0.6v2.4M114.66 243.8v13.4m0 0.6v6.4m0 0.6v6.4m0 2.6v4.4m0 1.6v2.4m0 0.6v1.4m0 0.6v7.4m0 0.6v2.4m0 2.6v1.4m0 0.6v7.4m0 1.6v1.4m0 0.6v4.4m0 0.6v5.4m0 8.6v1.4m0 1.6v1.4m0 1.6v1.4m0 0.6v2.4m0 3.6v1.4m0 0.6v2.4m0 2.6v1.4m0 1.6v1.4m0 2.6v3.4m0 0.6v1.4m0 0.6v4.4m0 5.6v1.4m0 1.6v1.4m0 2.6v1.4m0 0.6v1.4m0 1.6v2.4m0 2.6v2.4m0 0.6v1.4m0 1.6v2.4m0 1.6v7.4m0 0.6v1.4m0 3.6v3.4M116.05 244.8v9.4m0 0.6v2.4m0 2.6v2.4m0 0.6v3.4m0 1.6v5.4m0 0.6v2.4m0 0.6v3.4m0 0.6v3.4m0 0.6v3.4m0 1.6v4.4m0 0.6v4.4m0 1.6v5.4m0 1.6v2.4m0 1.6v9.4m0 4.6v1.4m0 0.6v1.4m0 0.6v1.4m0 1.6v1.4m0 0.6v1.4m0 2.6v1.4m0 5.6v2.4m0 2.6v1.4m0 2.6v1.4m0 2.6v1.4m0 1.6v1.4m0 11.6v1.4m0 1.6v1.4m0 1.6v1.4m0 4.6v1.4m0 1.6v3.4m0 1.6v1.4m0 0.6v5.4m0 0.6v2.4m0 0.6v1.4m0 4.6v4.4M117.43 245.8v10.4m0 1.6v3.4m0 1.6v2.4m0 0.6v2.4m0 2.6v3.4m0 0.6v4.4m0 0.6v1.4m0 0.6v5.4m0 0.6v4.4m0 0.6v3.4m0 0.6v2.4m0 0.6v2.4m0 1.6v1.4m0 0.6v2.4m0 2.6v3.4m0 0.6v2.4m0 0.6v1.4m0 0.6v1.4m0 3.6v2.4m0 1.6v2.4m0 9.6v2.4m0 1.6v1.4m0 0.6v1.4m0 2.6v1.4m0 2.6v2.4m0 5.6v1.4m0 4.6v2.4m0 10.6v3.4m0 2.6v2.4m0 2.6v8.4m0 1.6v1.4m0 0.6v2.4m0 2.6v5.4M118.81 245.8v13.4m0 4.6v1.4m0 0.6v8.4m0 0.6v1.4m0 1.6v3.4m0 0.6v12.4m0 2.6v7.4m0 4.6v6.4m0 0.6v2.4m0 2.6v1.4m0 3.6v2.4m0 1.6v1.4m0 1.6v1.4m0 1.6v1.4m0 1.6v1.4m0 0.6v3.4m0 3.6v1.4m0 2.6v1.4m0 19.6v4.4m0 1.6v1.4m0 0.6v1.4m0 1.6v2.4m0 1.6v2.4m0 2.6v3.4m0 5.6v1.4m0 0.6v1.4m0 3.6v6.4M120.19 246.8v9.4m0 0.6v6.4m0 0.6v2.4m0 0.6v3.4m0 0.6v4.4m0 0.6v1.4m0 1.6v4.4m0 0.6v5.4m0 0.6v4.4m0 0.6v3.4m0 0.6v1.4m0 0.6v1.4m0 1.6v1.4m0 0.6v4.4m0 2.6v4.4m0 1.6v2.4m0 2.6v2.4m0 2.6v2.4m0 2.6v1.4m0 3.6v1.4m0 3.6v3.4m0 5.6v3.4m0 3.6v3.4m0 0.6v1.4m0 1.6v1.4m0 0.6v2.4m0 0.6v2.4m0 1.6v1.4m0 0.6v1.4m0 0.6v1.4m0 3.6v2.4m0 1.6v1.4m0 0.6v2.4m0 0.6v1.4m0 3.6v1.4m0 0.6v1.4m0 2.6v1.4m0 0.6v2.4m0 2.6v2.4M121.57 247.8v11.4m0 0.6v1.4m0 0.6v2.4m0 0.6v3.4m0 1.6v4.4m0 0.6v3.4m0 0.6v1.4m0 1.6v3.4m0 2.6v3.4m0 1.6v1.4m0 0.6v1.4m0 0.6v5.4m0 0.6v2.4m0 0.6v2.4m0 4.6v3.4m0 3.6v2.4m0 0.6v2.4m0 5.6v2.4m0 0.6v2.4m0 2.6v2.4m0 4.6v1.4m0 1.6v3.4m0 0.6v1.4m0 4.6v1.4m0 0.6v1.4m0 1.6v1.4m0 4.6v1.4m0 5.6v1.4m0 2.6v2.4m0 0.6v1.4m0 0.6v4.4m0 2.6v1.4m0 3.6v4.4m0 1.6v1.4m0 0.6v1.4m0 3.6v3.4M122.95 247.8v13.4m0 3.6v2.4m0 0.6v1.4m0 0.6v5.4m0 0.6v3.4m0 0.6v2.4m0 0.6v4.4m0 1.6v5.4m0 2.6v1.4m0 1.6v3.4m0 0.6v3.4m0 1.6v6.4m0 2.6v1.4m0 2.6v1.4m0 0.6v1.4m0 1.6v2.4m0 3.6v4.4m0 0.6v1.4m0 0.6v2.4m0 3.6v1.4m0 3.6v3.4m0 1.6v1.4m0 12.6v1.4m0 1.6v1.4m0 0.6v3.4m0 0.6v2.4m0 1.6v1.4m0 0.6v1.4m0 1.6v1.4m0 3.6v1.4m0 0.6v1.4m0 5.6v1.4m0 1.6v1.4m0 1.6v5.4M124.33 248.8v2.4m0 1.6v5.4m0 0.6v1.4m0 0.6v3.4m0 0.6v3.4m0 1.6v3.4m0 3.6v3.4m0 1.6v5.4m0 0.6v4.4m0 0.6v3.4m0 0.6v1.4m0 2.6v3.4m0 0.6v5.4m0 1.6v1.4m0 0.6v1.4m0 0.6v1.4m0 0.6v2.4m0 0.6v1.4m0 12.6v1.4m0 2.6v1.4m0 2.6v1.4m0 5.6v1.4m0 1.6v2.4m0 0.6v1.4m0 0.6v1.4m0 3.6v4.4m0 1.6v1.4m0 0.6v1.4m0 4.6v1.4m0 3.6v2.4m0 2.6v1.4m0 0.6v1.4m0 1.6v3.4m0 2.6v2.4m0 6.6v1.4m0 1.6v2.4M125.72 249.8v7.4m0 0.6v14.4m0 1.6v2.4m0 0.6v2.4m0 1.6v2.4m0 1.6v1.4m0 0.6v3.4m0 1.6v1.4m0 2.6v1.4m0 1.6v2.4m0 1.6v2.4m0 0.6v1.4m0 0.6v5.4m0 7.6v1.4m0 2.6v1.4m0 3.6v2.4m0 7.6v1.4m0 0.6v5.4m0 1.6v1.4m0 0.6v1.4m0 0.6v4.4m0 1.6v2.4m0 3.6v1.4m0 1.6v1.4m0 0.6v6.4m0 1.6v2.4m0 1.6v1.4m0 4.6v1.4m0 0.6v2.4m0 1.6v1.4m0 1.6v1.4m0 1.6v1.4m0 2.6v1.4m0 0.6v2.4m0 0.6v2.4M127.10 250.8v5.4m0 0.6v1.4m0 0.6v5.4m0 0.6v2.4m0 0.6v5.4m0 1.6v2.4m0 0.6v2.4m0 0.6v3.4m0 0.6v1.4m0 2.6v1.4m0 2.6v1.4m0 1.6v6.4m0 1.6v2.4m0 0.6v8.4m0 4.6v4.4m0 2.6v3.4m0 0.6v1.4m0 6.6v1.4m0 0.6v1.4m0 0.6v1.4m0 0.6v1.4m0 1.6v3.4m0 4.6v2.4m0 0.6v1.4m0 1.6v1.4m0 4.6v2.4m0 0.6v2.4m0 0.6v3.4m0 1.6v1.4m0 1.6v1.4m0 1.6v1.4m0 0.6v2.4m0 5.6v1.4m0 0.6v5.4m0 1.6v1.4m0 0.6v4.4M128.48 250.8v4.4m0 0.6v1.4m0 0.6v12.4m0 0.6v3.4m0 0.6v4.4m0 0.6v1.4m0 0.6v3.4m0 2.6v3.4m0 4.6v3.4m0 0.6v2.4m0 2.6v3.4m0 0.6v5.4m0 0.6v1.4m0 2.6v1.4m0 3.6v1.4m0 1.6v2.4m0 0.6v1.4m0 0.6v1.4m0 5.6v1.4m0 0.6v1.4m0 2.6v1.4m0 1.6v1.4m0 0.6v1.4m0 2.6v1.4m0 1.6v2.4m0 0.6v1.4m0 2.6v2.4m0 0.6v1.4m0 0.6v3.4m0 1.6v3.4m0 0.6v1.4m0 0.6v1.4m0 1.6v1.4m0 0.6v2.4m0 2.6v3.4m0 4.6v1.4m0 1.6v1.4m0 1.6v6.4M129.86 251.8v22.4m0 0.6v2.4m0 0.6v2.4m0 0.6v1.4m0 0.6v4.4m0 0.6v3.4m0 0.6v3.4m0 0.6v4.4m0 1.6v1.4m0 0.6v1.4m0 0.6v7.4m0 3.6v2.4m0 2.6v1.4m0 1.6v1.4m0 4.6v2.4m0 0.6v1.4m0 4.6v2.4m0 0.6v1.4m0 0.6v2.4m0 1.6v1.4m0 1.6v2.4m0 0.6v1.4m0 1.6v2.4m0 0.6v4.4m0 1.6v1.4m0 1.6v2.4m0 0.6v3.4m0 1.6v1.4m0 1.6v1.4m0 1.6v1.4m0 0.6v2.4m0 1.6v1.4m0 1.6v1.4m0 0.6v1.4m0 0.6v1.4m0 0.6v1.4m0 0.6v1.4m0 0.6v2.4m0 0.6v3.4M131.24 251.8v8.4m0 0.6v3.4m0 0.6v6.4m0 1.6v2.4m0 1.6v2.4m0 0.6v2.4m0 0.6v1.4m0 0.6v5.4m0 0.6v6.4m0 1.6v4.4m0 0.6v1.4m0 1.6v1.4m0 0.6v2.4m0 1.6v1.4m0 3.6v2.4m0 0.6v2.4m0 4.6v1.4m0 0.6v1.4m0 5.6v3.4m0 0.6v1.4m0 6.6v5.4m0 2.6v2.4m0 1.6v1.4m0 0.6v2.4m0 5.6v3.4m0 1.6v2.4m0 5.6v1.4m0 0.6v1.4m0 1.6v1.4m0 2.6v3.4m0 0.6v1.4m0 0.6v1.4m0 2.6v1.4m0 1.6v3.4M132.62 252.8v4.4m0 0.6v5.4m0 3.6v3.4m0 0.6v2.4m0 0.6v2.4m0 0.6v2.4m0 0.6v4.4m0 0.6v1.4m0 0.6v4.4m0 4.6v9.4m0 0.6v5.4m0 3.6v1.4m0 0.6v5.4m0 1.6v1.4m0 1.6v1.4m0 1.6v1.4m0 0.6v1.4m0 2.6v1.4m0 0.6v2.4m0 0.6v1.4m0 2.6v4.4m0 4.6v1.4m0 2.6v3.4m0 14.6v1.4m0 2.6v5.4m0 2.6v1.4m0 0.6v3.4m0 3.6v1.4m0 1.6v5.4m0 0.6v2.4M134.01 253.8v6.4m0 0.6v1.4m0 5.6v3.4m0 0.6v7.4m0 0.6v2.4m0 2.6v2.4m0 0.6v9.4m0 0.6v1.4m0 1.6v10.4m0 10.6v4.4m0 1.6v4.4m0 1.6v1.4m0 2.6v1.4m0 1.6v1.4m0 0.6v1.4m0 2.6v2.4m0 1.6v1.4m0 1.6v1.4m0 0.6v1.4m0 1.6v2.4m0 13.6v1.4m0 3.6v1.4m0 1.6v1.4m0 2.6v1.4m0 2.6v1.4m0 0.6v2.4m0 0.6v2.4m0 1.6v8.4M135.39 253.8v6.4m0 0.6v2.4m0 5.6v6.4m0 0.6v8.4m0 1.6v1.4m0 1.6v8.4m0 0.6v1.4m0 0.6v5.4m0 0.6v5.4m0 5.6v3.4m0 0.6v2.4m0 0.6v1.4m0 0.6v2.4m0 0.6v1.4m0 0.6v1.4m0 0.6v1.4m0 0.6v1.4m0 0.6v1.4m0 3.6v1.4m0 2.6v3.4m0 1.6v1.4m0 0.6v1.4m0 3.6v1.4m0 19.6v1.4m0 0.6v1.4m0 0.6v1.4m0 0.6v1.4m0 3.6v1.4m0 1.6v2.4m0 0.6v1.4m0 1.6v4.4m0 0.6v3.4M136.77 254.8v6.4m0 0.6v1.4m0 0.6v1.4m0 0.6v12.4m0 0.6v1.4m0 0.6v2.4m0 1.6v3.4m0 0.6v11.4m0 0.6v10.4m0 0.6v2.4m0 5.6v1.4m0 1.6v1.4m0 0.6v1.4m0 1.6v2.4m0 4.6v1.4m0 0.6v1.4m0 1.6v1.4m0 2.6v1.4m0 1.6v3.4m0 1.6v1.4m0 2.6v1.4m0 1.6v1.4m0 1.6v2.4m0 0.6v1.4m0 0.6v1.4m0 0.6v1.4m0 2.6v3.4m0 5.6v1.4m0 3.6v2.4m0 2.6v3.4m0 0.6v1.4m0 0.6v1.4m0 0.6v2.4m0 0.6v1.4m0 0.6v1.4M138.15 255.8v6.4m0 0.6v1.4m0 0.6v3.4m0 0.6v6.4m0 0.6v5.4m0 0.6v7.4m0 0.6v2.4m0 0.6v1.4m0 1.6v1.4m0 0.6v13.4m0 1.6v1.4m0 0.6v1.4m0 1.6v1.4m0 1.6v3.4m0 4.6v5.4m0 1.6v3.4m0 5.6v1.4m0 1.6v1.4m0 1.6v1.4m0 0.6v2.4m0 0.6v1.4m0 2.6v1.4m0 3.6v1.4m0 2.6v1.4m0 0.6v1.4m0 6.6v1.4m0 5.6v7.4m0 1.6v1.4m0 2.6v5.4m0 0.6v1.4M142.29 257.8v6.4m0 0.6v2.4m0 0.6v1.4m0 0.6v2.4m0 2.6v1.4m0 0.6v12.4m0 1.6v1.4m0 0.6v5.4m0 0.6v4.4m0 0.6v3.4m0 4.6v1.4m0 1.6v1.4m0 0.6v1.4m0 0.6v1.4m0 0.6v2.4m0 1.6v1.4m0 0.6v1.4m0 1.6v4.4m0 0.6v3.4m0 0.6v1.4m0 0.6v1.4m0 3.6v1.4m0 10.6v1.4m0 0.6v3.4m0 4.6v2.4m0 3.6v1.4m0 0.6v4.4m0 2.6v2.4m0 0.6v1.4m0 3.6v1.4m0 1.6v1.4m0 3.6v5.4M143.68 257.8v5.4m0 0.6v1.4m0 0.6v2.4m0 1.6v1.4m0 1.6v3.4m0 0.6v1.4m0 0.6v5.4m0 0.6v2.4m0 0.6v5.4m0 0.6v15.4m0 0.6v2.4m0 1.6v1.4m0 2.6v2.4m0 0.6v1.4m0 2.6v9.4m0 2.6v1.4m0 2.6v3.4m0 3.6v2.4m0 1.6v1.4m0 0.6v1.4m0 7.6v1.4m0 9.6v1.4m0 0.6v1.4m0 4.6v1.4m0 6.6v2.4m0 0.6v1.4m0 0.6v1.4m0 0.6v6.4M145.06 258.8v3.4m0 0.6v2.4m0 0.6v1.4m0 0.6v8.4m0 0.6v2.4m0 0.6v6.4m0 0.6v6.4m0 1.6v6.4m0 0.6v1.4m0 0.6v3.4m0 0.6v1.4m0 1.6v1.4m0 0.6v1.4m0 0.6v3.4m0 3.6v4.4m0 1.6v1.4m0 2.6v1.4m0 1.6v1.4m0 3.6v1.4m0 1.6v1.4m0 5.6v2.4m0 3.6v1.4m0 0.6v1.4m0 0.6v1.4m0 0.6v1.4m0 0.6v8.4m0 3.6v1.4m0 1.6v1.4m0 2.6v2.4m0 0.6v4.4m0 2.6v3.4m0 2.6v1.4m0 0.6v2.4M146.44 258.8v8.4m0 0.6v5.4m0 0.6v1.4m0 0.6v6.4m0 0.6v3.4m0 0.6v7.4m0 0.6v3.4m0 0.6v1.4m0 1.6v1.4m0 0.6v4.4m0 0.6v4.4m0 0.6v5.4m0 2.6v1.4m0 0.6v3.4m0 0.6v1.4m0 3.6v1.4m0 1.6v2.4m0 0.6v1.4m0 1.6v1.4m0 1.6v1.4m0 1.6v1.4m0 3.6v3.4m0 4.6v2.4m0 0.6v1.4m0 0.6v2.4m0 0.6v1.4m0 0.6v2.4m0 4.6v1.4m0 3.6v1.4m0 1.6v1.4m0 0.6v4.4m0 0.6v1.4m0 2.6v1.4m0 0.6v3.4M147.82 259.8v2.4m0 1.6v4.4m0 0.6v6.4m0 2.6v5.4m0 1.6v6.4m0 3.6v1.4m0 1.6v1.4m0 2.6v3.4m0 7.6v5.4m0 1.6v3.4m0 0.6v1.4m0 5.6v1.4m0 1.6v2.4m0 1.6v1.4m0 1.6v4.4m0 10.6v3.4m0 0.6v3.4m0 1.6v3.4m0 0.6v2.4m0 4.6v6.4m0 1.6v2.4m0 0.6v1.4m0 7.6v1.4m0 1.6v2.4M149.20 260.8v15.4m0 2.6v4.4m0 0.6v7.4m0 0.6v1.4m0 0.6v2.4m0 3.6v1.4m0 1.6v1.4m0 0.6v1.4m0 2.6v1.4m0 3.6v6.4m0 0.6v1.4m0 0.6v4.4m0 1.6v1.4m0 2.6v1.4m0 2.6v1.4m0 0.6v1.4m0 0.6v3.4m0 7.6v2.4m0 0.6v1.4m0 1.6v3.4m0 0.6v1.4m0 0.6v1.4m0 0.6v7.4m0 2.6v2.4m0 0.6v2.4m0 0.6v4.4m0 0.6v2.4m0 0.6v1.4m0 0.6v1.4m0 3.6v1.4m0 0.6v2.4M150.58 260.8v4.4m0 2.6v2.4m0 1.6v1.4m0 1.6v4.4m0 0.6v2.4m0 2.6v1.4m0 1.6v2.4m0 0.6v7.4m0 0.6v6.4m0 0.6v1.4m0 0.6v4.4m0 0.6v1.4m0 1.6v1.4m0 3.6v1.4m0 5.6v1.4m0 7.6v1.4m0 0.6v3.4m0 2.6v4.4m0 0.6v1.4m0 0.6v2.4m0 7.6v2.4m0 8.6v3.4m0 13.6v2.4m0 1.6v1.4m0 0.6v4.4M151.96 261.8v4.4m0 0.6v5.4m0 0.6v1.4m0 0.6v2.4m0 0.6v2.4m0 0.6v3.4m0 0.6v13.4m0 0.6v15.4m0 1.6v1.4m0 1.6v1.4m0 2.6v1.4m0 1.6v1.4m0 1.6v1.4m0 2.6v2.4m0 0.6v1.4m0 0.6v2.4m0 2.6v1.4m0 1.6v1.4m0 0.6v1.4m0 2.6v2.4m0 1.6v1.4m0 3.6v2.4m0 5.6v1.4m0 0.6v1.4m0 3.6v1.4m0 0.6v3.4m0 4.6v1.4m0 2.6v3.4m0 2.6v4.4M153.35 261.8v6.4m0 0.6v5.4m0 0.6v1.4m0 0.6v1.4m0 0.6v3.4m0 3.6v6.4m0 0.6v1.4m0 0.6v3.4m0 1.6v3.4m0 0.6v1.4m0 0.6v1.4m0 2.6v2.4m0 2.6v1.4m0 1.6v1.4m0 1.6v1.4m0 2.6v4.4m0 9.6v5.4m0 0.6v1.4m0 0.6v1.4m0 2.6v1.4m0 4.6v2.4m0 2.6v1.4m0 1.6v4.4m0 1.6v1.4m0 0.6v1.4m0 0.6v1.4m0 6.6v2.4m0 0.6v3.4m0 3.6v1.4m0 1.6v3.4M154.73 262.8v7.4m0 0.6v1.4m0 1.6v1.4m0 0.6v3.4m0 0.6v2.4m0 0.6v7.4m0 0.6v5.4m0 0.6v7.4m0 1.6v4.4m0 0.6v1.4m0 0.6v3.4m0 0.6v1.4m0 1.6v2.4m0 0.6v1.4m0 0.6v1.4m0 0.6v1.4m0 1.6v2.4m0 0.6v3.4m0 3.6v1.4m0 0.6v1.4m0 0.6v1.4m0 3.6v1.4m0 0.6v1.4m0 1.6v2.4m0 0.6v1.4m0 3.6v1.4m0 7.6v2.4m0 2.6v1.4m0 0.6v1.4m0 2.6v1.4m0 1.6v4.4m0 1.6v5.4m0 0.6v1.4M156.11 263.8v2.4m0 0.6v12.4m0 0.6v2.4m0 0.6v3.4m0 1.6v7.4m0 1.6v9.4m0 3.6v1.4m0 0.6v1.4m0 1.6v5.4m0 2.6v2.4m0 7.6v2.4m0 0.6v3.4m0 3.6v1.4m0 0.6v2.4m0 2.6v1.4m0 3.6v3.4m0 0.6v2.4m0 1.6v3.4m0 0.6v1.4m0 1.6v2.4m0 1.6v1.4m0 0.6v1.4m0 1.6v1.4m0 0.6v1.4m0 2.6v1.4m0 0.6v1.4m0 4.6v5.4M157.49 263.8v7.4m0 0.6v1.4m0 0.6v3.4m0 1.6v4.4m0 0.6v1.4m0 1.6v5.4m0 0.6v13.4m0 0.6v2.4m0 0.6v5.4m0 3.6v1.4m0 0.6v1.4m0 0.6v2.4m0 1.6v2.4m0 5.6v1.4m0 0.6v1.4m0 1.6v3.4m0 1.6v1.4m0 1.6v3.4m0 8.6v2.4m0 2.6v1.4m0 2.6v2.4m0 4.6v4.4m0 2.6v1.4m0 0.6v2.4m0 4.6v5.4M158.87 264.8v10.4m0 0.6v5.4m0 1.6v5.4m0 0.6v3.4m0 0.6v1.4m0 0.6v7.4m0 0.6v2.4m0 0.6v1.4m0 0.6v4.4m0 1.6v2.4m0 2.6v1.4m0 0.6v1.4m0 0.6v1.4m0 0.6v1.4m0 1.6v1.4m0 1.6v1.4m0 2.6v1.4m0 0.6v1.4m0 1.6v2.4m0 5.6v6.4m0 1.6v1.4m0 0.6v1.4m0 1.6v1.4m0 2.6v1.4m0 2.6v2.4m0 3.6v1.4m0 1.6v1.4m0 2.6v1.4m0 1.6v1.4m0 2.6v6.4m0 0.6v1.4M160.25 264.8v9.4m0 0.6v9.4m0 0.6v8.4m0 0.6v1.4m0 0.6v8.4m0 0.6v5.4m0 3.6v2.4m0 0.6v3.4m0 0.6v1.4m0 0.6v2.4m0 0.6v1.4m0 0.6v1.4m0 0.6v3.4m0 2.6v1.4m0 4.6v1.4m0 1.6v2.4m0 0.6v3.4m0 1.6v1.4m0 0.6v1.4m0 1.6v1.4m0 1.6v2.4m0 0.6v1.4m0 3.6v1.4m0 1.6v2.4m0 0.6v2.4m0 0.6v1.4m0 0.6v1.4m0 0.6v3.4m0 0.6v4.4m0 1.6v4.4M161.64 265.8v28.4m0 0.6v6.4m0 1.6v2.4m0 0.6v3.4m0 0.6v1.4m0 0.6v1.4m0 2.6v3.4m0 0.6v2.4m0 0.6v4.4m0 0.6v1.4m0 0.6v3.4m0 1.6v1.4m0 0.6v1.4m0 0.6v1.4m0 0.6v1.4m0 0.6v1.4m0 3.6v1.4m0 1.6v1.4m0 0.6v2.4m0 1.6v3.4m0 0.6v1.4m0 0.6v1.4m0 0.6v1.4m0 1.6v2.4m0 1.6v1.4m0 0.6v2.4m0 0.6v2.4m0 0.6v1.4m0 0.6v3.4m0 0.6v6.4m0 0.6v3.4M163.02 266.8v13.4m0 0.6v2.4m0 0.6v6.4m0 0.6v10.4m0 2.6v4.4m0 0.6v1.4m0 1.6v7.4m0 0.6v1.4m0 0.6v2.4m0 3.6v1.4m0 1.6v1.4m0 0.6v2.4m0 0.6v2.4m0 1.6v2.4m0 3.6v2.4m0 4.6v2.4m0 1.6v3.4m0 0.6v2.4m0 0.6v2.4m0 1.6v4.4m0 2.6v2.4m0 2.6v3.4m0 0.6v1.4m0 0.6v5.4m0 0.6v3.4M164.40 266.8v20.4m0 0.6v1.4m0 1.6v4.4m0 0.6v4.4m0 5.6v3.4m0 1.6v1.4m0 0.6v1.4m0 2.6v1.4m0 0.6v1.4m0 0.6v3.4m0 6.6v2.4m0 1.6v1.4m0 2.6v2.4m0 1.6v2.4m0 0.6v1.4m0 1.6v1.4m0 1.6v1.4m0 0.6v2.4m0 0.6v2.4m0 0.6v3.4m0 1.6v3.4m0 0.6v3.4m0 2.6v5.4m0 1.6v1.4m0 2.6v3.4m0 0.6v2.4m0 0.6v2.4M165.78 267.8v9.4m0 0.6v11.4m0 0.6v10.4m0 7.6v4.4m0 1.6v2.4m0 1.6v2.4m0 0.6v1.4m0 0.6v6.4m0 1.6v1.4m0 0.6v3.4m0 1.6v2.4m0 1.6v2.4m0 0.6v1.4m0 0.6v2.4m0 0.6v1.4m0 3.6v1.4m0 0.6v2.4m0 0.6v2.4m0 2.6v1.4m0 2.6v3.4m0 1.6v1.4m0 0.6v1.4m0 0.6v4.4m0 0.6v1.4m0 0.6v2.4m0 0.6v6.4M167.16 267.8v12.4m0 0.6v19.4m0 8.6v5.4m0 0.6v3.4m0 0.6v2.4m0 1.6v1.4m0 1.6v1.4m0 1.6v2.4m0 1.6v6.4m0 0.6v1.4m0 2.6v1.4m0 1.6v3.4m0 0.6v3.4m0 3.6v1.4m0 2.6v2.4m0 1.6v4.4m0 2.6v4.4m0 2.6v3.4m0 2.6v7.4M168.54 268.8v7.4m0 0.6v8.4m0 0.6v2.4m0 0.6v2.4m0 0.6v7.4m0 11.6v4.4m0 0.6v2.4m0 0.6v1.4m0 0.6v2.4m0 1.6v2.4m0 1.6v1.4m0 2.6v1.4m0 1.6v4.4m0 0.6v1.4m0 3.6v3.4m0 0.6v1.4m0 0.6v2.4m0 1.6v2.4m0 0.6v1.4m0 1.6v1.4m0 1.6v1.4m0 4.6v1.4m0 0.6v1.4m0 1.6v1.4m0 1.6v2.4m0 0.6v11.4M169.92 268.8v13.4m0 0.6v7.4m0 0.6v1.4m0 0.6v6.4m0 12.6v6.4m0 1.6v1.4m0 0.6v3.4m0 2.6v1.4m0 2.6v1.4m0 0.6v4.4m0 0.6v1.4m0 0.6v2.4m0 0.6v2.4m0 0.6v3.4m0 2.6v1.4m0 2.6v1.4m0 2.6v7.4m0 0.6v1.4m0 0.6v1.4m0 0.6v1.4m0 1.6v2.4m0 0.6v1.4m0 1.6v1.4m0 0.6v1.4m0 0.6v6.4M171.31 269.8v3.4m0 1.6v1.4m0 4.6v1.4m0 0.6v5.4m0 3.6v1.4m0 1.6v4.4m0 14.6v6.4m0 6.6v1.4m0 9.6v9.4m0 0.6v2.4m0 0.6v1.4m0 2.6v1.4m0 18.6v1.4m0 8.6v1.4m0 2.6v3.4M174.07 270.8v15.4m0 0.6v11.4m0 18.6v3.4m0 0.6v3.4m0 0.6v3.4m0 0.6v1.4m0 1.6v1.4m0 0.6v2.4m0 0.6v2.4m0 1.6v1.4m0 3.6v2.4m0 0.6v2.4m0 1.6v1.4m0 1.6v4.4m0 0.6v1.4m0 1.6v1.4m0 2.6v1.4m0 1.6v2.4m0 3.6v1.4m0 0.6v1.4m0 0.6v10.4M175.45 270.8v7.4m0 2.6v3.4m0 0.6v1.4m0 0.6v2.4m0 0.6v4.4m0 0.6v3.4m0 19.6v1.4m0 0.6v3.4m0 3.6v1.4m0 0.6v7.4m0 2.6v2.4m0 2.6v1.4m0 2.6v2.4m0 3.6v3.4m0 1.6v2.4m0 10.6v1.4m0 2.6v1.4m0 0.6v3.4m0 0.6v4.4m0 1.6v2.4M176.83 271.8v13.4m0 0.6v4.4m0 0.6v2.4m0 0.6v4.4m0 21.6v2.4m0 2.6v3.4m0 1.6v4.4m0 0.6v1.4m0 1.6v1.4m0 1.6v3.4m0 2.6v2.4m0 2.6v5.4m0 1.6v1.4m0 0.6v5.4m0 1.6v4.4m0 0.6v2.4m0 0.6v1.4m0 0.6v3.4m0 0.6v3.4m0 0.6v4.4M178.21 271.8v12.4m0 0.6v1.4m0 0.6v1.4m0 0.6v9.4m0 22.6v1.4m0 0.6v4.4m0 0.6v2.4m0 2.6v2.4m0 1.6v3.4m0 5.6v1.4m0 1.6v1.4m0 4.6v4.4m0 0.6v2.4m0 0.6v11.4m0 1.6v2.4m0 1.6v2.4m0 0.6v1.4m0 0.6v4.4M179.60 272.8v25.4m0 23.6v6.4m0 0.6v1.4m0 1.6v2.4m0 1.6v1.4m0 1.6v6.4m0 0.6v1.4m0 1.6v2.4m0 1.6v1.4m0 0.6v11.4m0 1.6v13.4m0 0.6v7.4M180.98 272.8v24.4m0 26.6v2.4m0 0.6v2.4m0 2.6v1.4m0 0.6v4.4m0 0.6v1.4m0 2.6v1.4m0 1.6v3.4m0 1.6v1.4m0 1.6v3.4m0 1.6v5.4m0 4.6v1.4m0 0.6v3.4m0 0.6v3.4m0 0.6v10.4M182.36 273.8v13.4m0 0.6v9.4m0 27.6v1.4m0 0.6v2.4m0 0.6v1.4m0 1.6v5.4m0 2.6v2.4m0 0.6v2.4m0 5.6v1.4m0 1.6v2.4m0 1.6v1.4m0 1.6v2.4m0 0.6v5.4m0 0.6v4.4m0 2.6v6.4m0 0.6v3.4M183.74 274.8v12.4m0 0.6v9.4m0 28.6v2.4m0 1.6v1.4m0 1.6v2.4m0 0.6v3.4m0 3.6v1.4m0 0.6v3.4m0 2.6v2.4m0 0.6v2.4m0 1.6v2.4m0 0.6v2.4m0 0.6v10.4m0 0.6v1.4m0 0.6v11.4M185.12 274.8v14.4m0 1.6v1.4m0 0.6v4.4m0 30.6v2.4m0 0.6v3.4m0 1.6v1.4m0 1.6v2.4m0 4.6v4.4m0 1.6v5.4m0 2.6v18.4m0 1.6v7.4M186.50 275.8v6.4m0 0.6v9.4m0 1.6v3.4m0 31.6v2.4m0 0.6v3.4m0 4.6v2.4m0 0.6v2.4m0 1.6v2.4m0 0.6v1.4m0 0.6v2.4m0 1.6v4.4m0 1.6v2.4m0 4.6v4.4m0 0.6v7.4m0 1.6v4.4M187.88 275.8v6.4m0 1.6v8.4m0 0.6v4.4m0 32.6v7.4m0 4.6v2.4m0 2.6v1.4m0 0.6v6.4m0 1.6v1.4m0 1.6v1.4m0 8.6v1.4m0 0.6v1.4m0 0.6v4.4m0 0.6v2.4m0 0.6v4.4M189.27 276.8v5.4m0 3.6v11.4m0 33.6v13.4m0 0.6v1.4m0 1.6v2.4m0 1.6v1.4m0 0.6v5.4m0 12.6v14.4M190.65 276.8v5.4m0 4.6v6.4m0 0.6v3.4m0 35.6v2.4m0 0.6v2.4m0 1.6v1.4m0 1.6v1.4m0 1.6v2.4m0 1.6v3.4m0 2.6v1.4m0 15.6v1.4m0 0.6v5.4m0 0.6v4.4M192.03 277.8v4.4m0 5.6v5.4m0 0.6v2.4m0 37.6v5.4m0 3.6v1.4m0 1.6v1.4m0 0.6v6.4m0 19.6v6.4m0 1.6v3.4M193.41 277.8v1.4m0 0.6v2.4m0 6.6v1.4m0 0.6v1.4m0 2.6v1.4m0 38.6v1.4m0 0.6v1.4m0 8.6v1.4m0 3.6v1.4m0 21.6v1.4m0 1.6v1.4m0 2.6v2.4" stroke-width="1.22"/><path d="M0.00 78.15v0.65M0.00 96.60v0.65M1.38 33.52v0.65M1.38 52.08v0.65M1.38 140.63v0.65M1.38 153.69v0.65M11.05 64.94v0.65M11.05 126.88v0.65M11.05 195.16v0.65M12.43 65.10v0.65M12.43 131.15v0.65M12.43 197.46v0.65M13.81 66.05v0.65M13.81 134.92v0.65M13.81 199.47v0.65M15.20 67.42v0.65M15.20 138.57v0.65M15.20 201.43v0.65M16.58 69.19v0.65M16.58 142.26v0.65M16.58 203.42v0.65M17.96 71.39v0.65M17.96 145.89v0.65M17.96 205.38v0.65M19.34 73.84v0.65M19.34 149.06v0.65M19.34 207.08v0.65M20.72 76.21v0.65M20.72 151.54v0.65M20.72 208.39v0.65M22.10 78.36v0.65M22.10 153.43v0.65M22.10 209.38v0.65M23.49 80.29v0.65M23.49 154.92v0.65M23.49 210.14v0.65M24.87 82.03v0.65M24.87 156.14v0.65M24.87 210.76v0.65M26.25 81.56v0.65M26.25 85.61v0.65M26.25 152.94v0.65M26.25 160.09v0.65M26.25 208.86v0.65M26.25 212.92v0.65M27.63 81.92v0.65M27.63 88.46v0.65M27.63 149.31v0.65M27.63 162.69v0.65M27.63 206.69v0.65M27.63 214.31v0.65M29.01 83.24v0.65M29.01 90.49v0.65M29.01 147.13v0.65M29.01 164.21v0.65M29.01 205.33v0.65M29.01 215.10v0.65M82.89 112.00v0.65M82.89 113.59v0.65M82.89 160.74v0.66M82.89 168.96v0.66M82.89 210.50v0.66M82.89 215.61v0.65M84.27 112.46v0.65M84.27 113.87v0.65M84.27 161.41v0.65M84.27 168.68v0.65M84.27 210.85v0.65M84.27 215.38v0.65M85.65 112.93v0.65M85.65 114.12v0.65M85.65 162.14v0.65M85.65 168.32v0.65M85.65 211.25v0.65M85.65 215.10v0.65M87.03 113.41v0.65M87.03 114.35v0.65M87.03 162.98v0.65M87.03 167.84v0.65M87.03 211.71v0.65M87.03 214.74v0.65M88.42 113.94v0.65M88.42 114.52v0.65M88.42 164.09v0.65M88.42 167.09v0.65M88.42 212.34v0.65M88.42 214.22v0.65M89.80 114.59v0.65M89.80 165.64v0.68M89.80 213.25v0.67M91.18 114.99v0.65M91.18 165.51v0.65M91.18 213.11v0.65M92.56 115.39v0.65M92.56 165.35v0.65M92.56 212.94v0.65M93.94 115.79v0.65M93.94 165.16v0.65M93.94 212.76v0.65M95.32 116.19v0.65M95.32 164.93v0.65M95.32 212.55v0.65M96.70 116.59v0.65M96.70 164.66v0.65M96.70 212.31v0.65M98.09 117.00v0.65M98.09 164.32v0.65M98.09 212.03v0.65M99.47 117.43v0.65M99.47 163.86v0.65M99.47 211.67v0.65M100.85 117.90v0.65M100.85 163.15v0.65M100.85 211.14v0.65M139.53 128.03v0.77M139.53 137.67v0.65M139.53 138.41v0.65M139.53 152.76v0.65M139.53 153.31v0.65M139.53 168.68v0.65M139.53 170.80v0.65M139.53 201.45v0.65M139.53 201.88v0.65M140.91 128.35v0.65M140.91 138.52v0.65M140.91 153.04v0.65M140.91 169.06v0.65M140.91 201.57v0.65M172.69 135.05v0.68M172.69 142.84v0.87M172.69 148.59v0.74M172.69 157.50v0.84M172.69 170.90v0.65M172.69 171.50v0.65M172.69 194.99v0.74M194.79 139.15v0.67M194.79 140.18v0.70M194.79 144.83v0.76M194.79 147.44v0.70M194.79 167.99v0.77M194.79 174.42v0.95M194.79 187.93v0.80M194.79 191.24v0.71M196.17 139.38v0.65M196.17 140.33v0.65M196.17 145.18v0.65M196.17 147.50v0.65M196.17 168.46v0.65M196.17 174.30v0.65M196.17 188.18v0.65M196.17 191.13v0.65M197.55 139.61v0.65M197.55 140.44v0.65M197.55 145.49v0.65M197.55 147.50v0.65M197.55 168.93v0.65M197.55 173.98v0.65M197.55 188.39v0.65M197.55 190.95v0.65M198.94 139.86v0.65M198.94 140.54v0.65M198.94 145.83v0.65M198.94 147.48v0.65M198.94 169.46v0.65M198.94 173.59v0.65M198.94 188.63v0.65M198.94 190.74v0.65M200.32 140.12v0.65M200.32 140.61v0.65M200.32 146.23v0.65M200.32 147.40v0.65M200.32 170.12v0.65M200.32 173.05v0.65M200.32 188.95v0.65M200.32 190.45v0.65M201.70 140.49v0.74M201.70 146.86v0.87M201.70 171.38v0.67M201.70 171.92v0.67M201.70 189.57v0.94M203.08 140.74v0.65M203.08 147.05v0.65M203.08 171.94v0.65M203.08 189.61v0.65M204.46 140.95v0.65M204.46 147.12v0.65M204.46 172.23v0.65M204.46 189.50v0.65M205.84 141.15v0.65M205.84 147.19v0.65M205.84 172.52v0.65M205.84 189.39v0.65M207.22 141.36v0.65M207.22 147.26v0.65M207.22 172.82v0.65M207.22 189.27v0.65M208.61 141.57v0.65M208.61 147.33v0.65M208.61 173.12v0.65M208.61 189.15v0.65M209.99 141.78v0.65M209.99 147.39v0.65M209.99 173.42v0.65M209.99 189.02v0.65M211.37 141.99v0.65M211.37 147.45v0.65M211.37 173.73v0.65M211.37 188.89v0.65M212.75 142.21v0.65M212.75 147.50v0.65M212.75 174.05v0.65M212.75 188.75v0.65M214.13 142.42v0.65M214.13 147.56v0.65M214.13 174.37v0.65M214.13 188.60v0.65M215.51 142.64v0.65M215.51 147.61v0.65M215.51 174.70v0.65M215.51 188.44v0.65M216.90 142.86v0.65M216.90 147.65v0.65M216.90 175.04v0.65M216.90 188.28v0.65M218.28 143.08v0.65M218.28 147.69v0.65M218.28 175.38v0.65M218.28 188.10v0.65M219.66 143.31v0.65M219.66 147.73v0.65M219.66 175.74v0.65M219.66 187.92v0.65M221.04 143.54v0.65M221.04 147.76v0.65M221.04 176.10v0.65M221.04 187.72v0.65M222.42 143.77v0.65M222.42 147.79v0.65M222.42 176.48v0.65M222.42 187.51v0.65M223.80 144.01v0.65M223.80 147.80v0.65M223.80 176.88v0.65M223.80 187.29v0.65M225.18 144.26v0.65M225.18 147.81v0.65M225.18 177.29v0.65M225.18 187.04v0.65M226.57 144.51v0.65M226.57 147.82v0.65M226.57 177.73v0.65M226.57 186.77v0.65M227.95 144.78v0.65M227.95 147.80v0.65M227.95 178.19v0.65M227.95 186.47v0.65M229.33 145.05v0.65M229.33 147.78v0.65M229.33 178.69v0.65M229.33 186.13v0.65M230.71 145.35v0.65M230.71 147.73v0.65M230.71 179.25v0.65M230.71 185.74v0.65M232.09 145.68v0.65M232.09 147.66v0.65M232.09 179.88v0.65M232.09 185.27v0.65M233.47 146.05v0.65M233.47 147.53v0.65M233.47 180.66v0.65M233.47 184.66v0.65M234.85 146.55v0.68M234.85 147.25v0.68M234.85 181.73v0.74M234.85 183.65v0.73M236.24 147.01v0.77M236.24 182.57v0.98M237.62 147.24v0.66M237.62 182.70v0.68M239.00 147.41v0.65M239.00 182.69v0.65M240.38 147.58v0.65M240.38 182.67v0.65M241.76 147.74v0.65M241.76 182.65v0.65M243.14 147.91v0.65M243.14 182.62v0.65M244.53 148.08v0.65M244.53 182.60v0.65M245.91 148.24v0.65M245.91 182.57v0.65M247.29 148.41v0.65M247.29 182.55v0.65M248.67 148.57v0.65M248.67 182.52v0.65M250.05 148.74v0.65M250.05 182.50v0.65M251.43 148.90v0.65M251.43 182.47v0.65M252.81 149.07v0.65M252.81 182.44v0.65M254.20 149.23v0.65M254.20 182.41v0.65M255.58 149.40v0.65M255.58 182.38v0.65M256.96 149.56v0.65M256.96 182.35v0.65M258.34 149.73v0.65M258.34 182.32v0.65M259.72 149.89v0.65M259.72 182.29v0.65M261.10 150.05v0.65M261.10 182.26v0.65M262.48 150.22v0.65M262.48 182.23v0.65M263.87 150.38v0.65M263.87 182.20v0.65M265.25 150.54v0.65M265.25 182.17v0.65M266.63 150.71v0.65M266.63 182.13v0.65M268.01 150.87v0.65M268.01 182.10v0.65M269.39 151.03v0.65M269.39 182.06v0.65M270.77 151.20v0.65M270.77 182.03v0.65M272.16 151.36v0.65M272.16 181.99v0.65M273.54 151.52v0.65M273.54 181.96v0.65M274.92 151.69v0.65M274.92 181.92v0.65M276.30 151.85v0.65M276.30 181.88v0.65" stroke-width="1.38"/></g>
<path d="M56.1 34.7L58.8 45.0L61.6 55.8L64.3 36.0L67.1 35.5L69.9 35.5L72.6 35.7L75.4 35.5L78.1 35.2L80.9 35.2L83.7 35.2L86.4 36.7L89.2 39.9L92.0 38.0L94.7 39.5L97.5 56.4L100.2 48.3L103.0 50.8L105.8 50.8L108.5 62.1L111.3 48.3L114.0 46.0L116.8 44.0L119.6 41.9L122.3 45.1L125.1 36.0L127.8 35.2L130.6 35.2L133.4 35.0L136.1 35.2L138.9 35.5L141.7 35.2L144.4 35.2L147.2 35.7L149.9 36.0L152.7 35.2L155.5 61.6L158.2 83.4L161.0 88.9L163.7 110.8L166.5 97.5L169.3 94.5L172.0 145.2L174.8 120.4L177.5 137.6L180.3 154.9L183.1 125.2L185.8 124.1L188.6 127.6L191.3 124.1L194.1 37.7L196.9 198.4L199.6 204.9L202.4 165.8L205.2 126.3L207.9 145.8L210.7 105.9L213.4 120.8L216.2 111.8L219.0 151.9L221.7 184.5L224.5 159.0L227.2 158.7L230.0 165.3L232.8 149.4L235.5 147.7L238.3 158.5L241.0 90.4L243.8 194.1L246.6 150.4L249.3 106.6L252.1 101.0L254.9 110.3L257.6 93.2L260.4 76.0L263.1 76.0L265.9 76.0L268.7 50.6L271.4 66.6L274.2 57.1L276.9 104.3L279.7 70.1L282.5 65.6L285.2 57.6L288.0 72.9L290.7 50.7L293.5 36.4L296.3 54.4L299.0 44.8L301.8 48.0L304.6 48.8L307.3 39.6L310.1 35.9L312.8 35.0L315.6 36.5L318.4 46.5L321.1 64.4L323.9 40.1L326.6 34.8L329.4 34.0" fill="none" stroke="#000" stroke-width="1.9" stroke-linejoin="round"/><path d="M56.1 34.7L58.8 34.7L61.6 36.5L64.3 34.7L67.1 34.7L69.9 34.7L72.6 34.7L75.4 34.7L78.1 34.7L80.9 34.7L83.7 34.7L86.4 34.7L89.2 34.7L92.0 34.7L94.7 34.7L97.5 34.7L100.2 34.7L103.0 36.0L105.8 34.8L108.5 39.2L111.3 35.0L114.0 34.7L116.8 34.7L119.6 34.7L122.3 34.7L125.1 34.7L127.8 34.7L130.6 34.7L133.4 34.7L136.1 34.7L138.9 34.7L141.7 34.7L144.4 34.7L147.2 34.7L149.9 34.7L152.7 34.7L155.5 40.2L158.2 45.8L161.0 46.5L163.7 69.9L166.5 57.6L169.3 62.5L172.0 103.5L174.8 80.7L177.5 101.5L180.3 122.2L183.1 94.5L185.8 107.1L188.6 102.9L191.3 101.7L194.1 34.8L196.9 206.2L199.6 170.5L202.4 134.9L205.2 99.2L207.9 114.3L210.7 91.2L213.4 111.4L216.2 102.6L219.0 200.7L221.7 161.0L224.5 121.1L227.2 136.9L230.0 120.1L232.8 102.7L235.5 126.3L238.3 99.2L241.0 72.9L243.8 121.1L246.6 88.3L249.3 55.4L252.1 57.2L254.9 70.9L257.6 84.4L260.4 39.2L263.1 39.5L265.9 39.7L268.7 37.3L271.4 40.0L274.2 35.7L276.9 44.0L279.7 36.7L282.5 35.5L285.2 35.0L288.0 34.7L290.7 34.5L293.5 34.2L296.3 34.0L299.0 37.7L301.8 41.1L304.6 37.7L307.3 34.3L310.1 34.3L312.8 34.3L315.6 34.5L318.4 39.6L321.1 34.7L323.9 35.8L326.6 34.3L329.4 34.3" fill="none" stroke="#ed1c24" stroke-width="1.75" stroke-linejoin="round"/>
<path d="M407.6 604.6L409.0 506.4L410.3 537.1L411.7 383.1L413.1 396.6L414.5 379.4L415.9 396.0L417.3 604.6L418.6 604.6L420.0 604.9L421.4 604.9L422.8 605.2L424.2 605.5L425.5 604.9L426.9 605.8L428.3 606.1L429.7 605.8L431.1 605.8L432.4 605.5L433.8 605.5L435.2 605.5L436.6 604.6L438.0 583.1L439.4 554.9L440.7 503.0L442.1 437.1L443.5 423.0L444.9 432.2L446.3 418.4L447.6 408.9L449.0 403.7L450.4 393.8L451.8 385.0L453.2 397.8L454.6 399.4L455.9 392.9L457.3 389.9L458.7 387.7L460.1 381.3L461.5 375.1L462.8 397.5L464.2 406.7L465.6 414.4L467.0 422.1L468.4 410.4L469.7 409.8L471.1 402.1L472.5 431.6L473.9 422.1L475.3 424.2L476.7 434.9L478.0 484.9L479.4 507.0L480.8 530.0L482.2 535.9L483.6 536.2L484.9 552.1L486.3 573.9L487.7 600.0L489.1 604.6L490.5 604.9L491.9 604.9L493.2 604.9L494.6 604.9L496.0 604.9L497.4 605.2L498.8 604.9L500.1 604.9L501.5 604.9L502.9 604.6L504.3 604.9L505.7 605.2L507.0 604.6L508.4 454.9L509.8 411.6L511.2 399.1L512.6 392.9L514.0 392.0L515.3 596.9L516.7 390.5L518.1 402.4L519.5 387.7L520.9 402.1L522.2 417.5L523.6 379.4L525.0 396.6L526.4 388.9L527.8 400.6L529.2 408.3L530.5 415.0L531.9 418.1L533.3 405.2L534.7 398.4L536.1 413.5L537.4 402.7L538.8 410.7L540.2 417.2L541.6 418.1L543.0 428.8L544.4 445.1L545.7 604.9L547.1 604.9L548.5 432.8L549.9 412.6L551.3 412.9L552.6 416.5L554.0 417.5L555.4 417.8L556.8 425.7L558.2 440.5L559.5 455.2L560.9 421.5L562.3 419.3L563.7 423.0L565.1 426.7L566.5 440.5L567.8 464.1L569.2 461.9L570.6 458.3L572.0 461.9L573.4 473.3L574.7 473.9L576.1 484.0L577.5 529.1L578.9 604.9L580.3 508.9L581.7 492.0L583.0 498.1L584.4 500.6L585.8 511.3L587.2 507.9L588.6 507.9L589.9 513.5L591.3 521.1L592.7 530.0L594.1 542.9L595.5 549.4L596.8 557.0L598.2 569.9L599.6 592.9L601.0 604.9L602.4 604.9L603.8 604.9L605.1 604.9L606.5 604.9L607.9 604.9L609.3 604.9L610.7 604.9L612.0 604.9L613.4 604.9L614.8 604.9L616.2 604.9L617.6 604.9L619.0 604.9L620.3 604.9L621.7 604.9L623.1 604.9L624.5 604.9L625.9 604.9L627.2 604.9L628.6 604.9L630.0 604.9L631.4 604.9L632.8 604.9L634.1 604.9L635.5 604.9L636.9 604.9L638.3 604.9L639.7 604.9L641.1 604.9L642.4 604.9L643.8 604.9L645.2 604.9L646.6 604.9L648.0 604.9L649.3 604.9L650.7 604.9L652.1 604.9L653.5 604.9L654.9 604.9L656.3 604.9L657.6 604.9L659.0 604.9L660.4 604.9L661.8 604.9L663.2 604.9L664.5 604.9L665.9 604.9L667.3 604.9L668.7 604.9L670.1 604.9L671.4 604.9L672.8 604.9L674.2 604.9L675.6 604.9L677.0 604.9L678.4 604.9L679.7 604.9L681.1 604.9L682.5 604.9" fill="none" stroke="#000" stroke-width="1.6" stroke-linejoin="round"/>
<rect x="53.3" y="21.8" width="276.10" height="275.70" fill="none" stroke="#111" stroke-width="1.4"/>
<path d="M53.30 297.5v-4.8M53.30 21.8v4.8M108.52 297.5v-4.8M108.52 21.8v4.8M163.74 297.5v-4.8M163.74 21.8v4.8M218.96 297.5v-4.8M218.96 21.8v4.8M274.18 297.5v-4.8M274.18 21.8v4.8M329.40 297.5v-4.8M329.40 21.8v4.8M67.10 297.5v-2.9M67.10 21.8v2.9M80.91 297.5v-2.9M80.91 21.8v2.9M94.71 297.5v-2.9M94.71 21.8v2.9M122.32 297.5v-2.9M122.32 21.8v2.9M136.13 297.5v-2.9M136.13 21.8v2.9M149.93 297.5v-2.9M149.93 21.8v2.9M177.54 297.5v-2.9M177.54 21.8v2.9M191.35 297.5v-2.9M191.35 21.8v2.9M205.15 297.5v-2.9M205.15 21.8v2.9M232.76 297.5v-2.9M232.76 21.8v2.9M246.57 297.5v-2.9M246.57 21.8v2.9M260.38 297.5v-2.9M260.38 21.8v2.9M287.98 297.5v-2.9M287.98 21.8v2.9M301.79 297.5v-2.9M301.79 21.8v2.9M315.59 297.5v-2.9M315.59 21.8v2.9" stroke="#111" stroke-width="1.0" fill="none"/>
<path d="M53.3 285.00h4.8M329.4 285.00h-4.8M53.3 234.79h4.8M329.4 234.79h-4.8M53.3 184.58h4.8M329.4 184.58h-4.8M53.3 134.38h4.8M329.4 134.38h-4.8M53.3 84.17h4.8M329.4 84.17h-4.8M53.3 33.96h4.8M329.4 33.96h-4.8M53.3 272.45h2.9M329.4 272.45h-2.9M53.3 259.90h2.9M329.4 259.90h-2.9M53.3 247.34h2.9M329.4 247.34h-2.9M53.3 222.24h2.9M329.4 222.24h-2.9M53.3 209.69h2.9M329.4 209.69h-2.9M53.3 197.14h2.9M329.4 197.14h-2.9M53.3 172.03h2.9M329.4 172.03h-2.9M53.3 159.48h2.9M329.4 159.48h-2.9M53.3 146.93h2.9M329.4 146.93h-2.9M53.3 121.82h2.9M329.4 121.82h-2.9M53.3 109.27h2.9M329.4 109.27h-2.9M53.3 96.72h2.9M329.4 96.72h-2.9M53.3 71.62h2.9M329.4 71.62h-2.9M53.3 59.06h2.9M329.4 59.06h-2.9M53.3 46.51h2.9M329.4 46.51h-2.9" stroke="#111" stroke-width="1.0" fill="none"/>
<text transform="translate(53.3,315.0) scale(0.95,1)" font-size="19" text-anchor="middle" fill="#111" >0</text>
<text transform="translate(108.5,315.0) scale(0.95,1)" font-size="19" text-anchor="middle" fill="#111" >0.2</text>
<text transform="translate(163.7,315.0) scale(0.95,1)" font-size="19" text-anchor="middle" fill="#111" >0.4</text>
<text transform="translate(219.0,315.0) scale(0.95,1)" font-size="19" text-anchor="middle" fill="#111" >0.6</text>
<text transform="translate(274.2,315.0) scale(0.95,1)" font-size="19" text-anchor="middle" fill="#111" >0.8</text>
<path transform="translate(324.38,315.0) scale(0.008813,-0.009277)" d="M806 0H525V1059Q371 915 162 846V1101Q272 1137 401 1237.5Q530 1338 578 1472H806Z" fill="#111"/>
<text transform="translate(51,291.2) scale(0.95,1)" font-size="19.2" text-anchor="end" fill="#111" >0</text>
<text transform="translate(51,241.0) scale(0.95,1)" font-size="19.2" text-anchor="end" fill="#111" >0.2</text>
<text transform="translate(51,190.8) scale(0.95,1)" font-size="19.2" text-anchor="end" fill="#111" >0.4</text>
<text transform="translate(51,140.6) scale(0.95,1)" font-size="19.2" text-anchor="end" fill="#111" >0.6</text>
<text transform="translate(51,90.4) scale(0.95,1)" font-size="19.2" text-anchor="end" fill="#111" >0.8</text>
<path transform="translate(40.86,40.2) scale(0.008906,-0.009375)" d="M806 0H525V1059Q371 915 162 846V1101Q272 1137 401 1237.5Q530 1338 578 1472H806Z" fill="#111"/>
<path d="M219.90 21.8V297.5" stroke="#000" stroke-width="2.0" stroke-dasharray="3.85 2.43" stroke-dashoffset="5.74" fill="none"/>
<text x="5.0" y="32.2" font-size="24.4" text-anchor="start" fill="#111" >(a)</text>
<text x="191.4" y="336.1" font-size="21.5" text-anchor="middle" fill="#111" >Rössler parameter <tspan font-style="italic">b</tspan><tspan font-size="15" dy="7.5">1</tspan></text>
<text transform="translate(16.2,160) rotate(-90)" font-size="21.5" text-anchor="middle" fill="#111">CMSR(<tspan font-style="italic">n</tspan>) [arb. units]</text>
<text transform="translate(149.5,15.5) scale(0.94,1)" font-size="22.8" text-anchor="middle" fill="#ed1c24" ><tspan font-style="italic">n</tspan> = 300</text>
<text transform="translate(248.12,171) scale(0.95,1)" font-size="22.4" text-anchor="start" fill="#111" ><tspan font-style="italic">n</tspan> =</text>
<path transform="translate(285.38,171) scale(0.010391,-0.010937)" d="M806 0H525V1059Q371 915 162 846V1101Q272 1137 401 1237.5Q530 1338 578 1472H806Z" fill="#111"/>
<text transform="translate(297.21,171) scale(0.95,1)" font-size="22.4" text-anchor="start" fill="#111" >00</text>
<text transform="translate(263,274.7) scale(0.96,1)" font-size="22.4" text-anchor="middle" fill="#111" ><tspan font-style="italic">b</tspan><tspan font-size="15" dy="7.3">2</tspan><tspan dy="-7.3"> = 0.6</tspan></text>
<path d="M131.5 17.2L114.7 31.4" stroke="#ed1c24" stroke-width="1.75" fill="none"/>
<rect x="406.2" y="21.7" width="276.30" height="275.90" fill="none" stroke="#111" stroke-width="1.4"/>
<path d="M406.20 297.6v-4.6M406.20 21.7v4.6M461.46 297.6v-4.6M461.46 21.7v4.6M516.72 297.6v-4.6M516.72 21.7v4.6M571.98 297.6v-4.6M571.98 21.7v4.6M627.24 297.6v-4.6M627.24 21.7v4.6M682.50 297.6v-4.6M682.50 21.7v4.6M420.01 297.6v-2.8M420.01 21.7v2.8M433.83 297.6v-2.8M433.83 21.7v2.8M447.64 297.6v-2.8M447.64 21.7v2.8M475.27 297.6v-2.8M475.27 21.7v2.8M489.09 297.6v-2.8M489.09 21.7v2.8M502.90 297.6v-2.8M502.90 21.7v2.8M530.53 297.6v-2.8M530.53 21.7v2.8M544.35 297.6v-2.8M544.35 21.7v2.8M558.16 297.6v-2.8M558.16 21.7v2.8M585.80 297.6v-2.8M585.80 21.7v2.8M599.61 297.6v-2.8M599.61 21.7v2.8M613.42 297.6v-2.8M613.42 21.7v2.8M641.05 297.6v-2.8M641.05 21.7v2.8M654.87 297.6v-2.8M654.87 21.7v2.8M668.68 297.6v-2.8M668.68 21.7v2.8" stroke="#111" stroke-width="1.0" fill="none"/>
<path d="M406.2 297.60h4.6M682.5 297.60h-4.6M406.2 236.29h4.6M682.5 236.29h-4.6M406.2 174.98h4.6M682.5 174.98h-4.6M406.2 113.67h4.6M682.5 113.67h-4.6M406.2 52.36h4.6M682.5 52.36h-4.6M406.2 282.27h2.8M682.5 282.27h-2.8M406.2 266.94h2.8M682.5 266.94h-2.8M406.2 251.62h2.8M682.5 251.62h-2.8M406.2 220.96h2.8M682.5 220.96h-2.8M406.2 205.63h2.8M682.5 205.63h-2.8M406.2 190.31h2.8M682.5 190.31h-2.8M406.2 159.65h2.8M682.5 159.65h-2.8M406.2 144.32h2.8M682.5 144.32h-2.8M406.2 128.99h2.8M682.5 128.99h-2.8M406.2 98.34h2.8M682.5 98.34h-2.8M406.2 83.01h2.8M682.5 83.01h-2.8M406.2 67.68h2.8M682.5 67.68h-2.8M406.2 37.03h2.8M682.5 37.03h-2.8M406.2 21.70h2.8M682.5 21.70h-2.8" stroke="#111" stroke-width="1.0" fill="none"/>
<text x="406.2" y="315.2" font-size="19" text-anchor="middle" fill="#111" >0</text>
<text x="461.5" y="315.2" font-size="19" text-anchor="middle" fill="#111" >0.2</text>
<text x="516.7" y="315.2" font-size="19" text-anchor="middle" fill="#111" >0.4</text>
<text x="572.0" y="315.2" font-size="19" text-anchor="middle" fill="#111" >0.6</text>
<text x="627.2" y="315.2" font-size="19" text-anchor="middle" fill="#111" >0.8</text>
<path transform="translate(677.22,315.2) scale(0.009277,-0.009277)" d="M806 0H525V1059Q371 915 162 846V1101Q272 1137 401 1237.5Q530 1338 578 1472H806Z" fill="#111"/>
<text x="404.5" y="303.6" font-size="19" text-anchor="end" fill="#111" >0</text>
<text x="404.5" y="242.3" font-size="19" text-anchor="end" fill="#111" >4</text>
<text x="404.5" y="181.0" font-size="19" text-anchor="end" fill="#111" >8</text>
<path transform="translate(383.37,119.7) scale(0.009277,-0.009277)" d="M806 0H525V1059Q371 915 162 846V1101Q272 1137 401 1237.5Q530 1338 578 1472H806Z" fill="#111"/>
<text x="404.5" y="119.7" font-size="19" text-anchor="end" fill="#111" >2</text>
<path transform="translate(383.37,58.4) scale(0.009277,-0.009277)" d="M806 0H525V1059Q371 915 162 846V1101Q272 1137 401 1237.5Q530 1338 578 1472H806Z" fill="#111"/>
<text x="404.5" y="58.4" font-size="19" text-anchor="end" fill="#111" >6</text>
<path d="M572.80 21.7V297.6" stroke="#000" stroke-width="1.8" stroke-dasharray="3.8 2.4" stroke-dashoffset="2.7" fill="none"/>
<text x="371.0" y="32.3" font-size="24.4" text-anchor="start" fill="#111" >(b)</text>
<text x="545.2" y="334" font-size="21.5" text-anchor="middle" fill="#111" >Rössler parameter <tspan font-style="italic">b</tspan></text>
<text transform="translate(358.2,158) rotate(-90) scale(0.978,1)" font-size="21.8" text-anchor="middle" fill="#111">Local maxima of waveform</text>
<text transform="translate(379,159.4) rotate(-90)" font-size="21.5" text-anchor="middle" fill="#111">[arb. units]</text>
<text x="616.2" y="274.8" font-size="21.5" text-anchor="middle" fill="#111" ><tspan font-style="italic">b</tspan><tspan font-size="15" dy="7.3">2</tspan><tspan dy="-7.3"> = 0.6</tspan></text>
<rect x="406.2" y="343.85" width="276.30" height="276.05" fill="none" stroke="#111" stroke-width="1.4"/>
<path d="M406.20 619.9v-4.6M406.20 343.85v4.6M461.46 619.9v-4.6M461.46 343.85v4.6M516.72 619.9v-4.6M516.72 343.85v4.6M571.98 619.9v-4.6M571.98 343.85v4.6M627.24 619.9v-4.6M627.24 343.85v4.6M682.50 619.9v-4.6M682.50 343.85v4.6M420.01 619.9v-2.8M420.01 343.85v2.8M433.83 619.9v-2.8M433.83 343.85v2.8M447.64 619.9v-2.8M447.64 343.85v2.8M475.27 619.9v-2.8M475.27 343.85v2.8M489.09 619.9v-2.8M489.09 343.85v2.8M502.90 619.9v-2.8M502.90 343.85v2.8M530.53 619.9v-2.8M530.53 343.85v2.8M544.35 619.9v-2.8M544.35 343.85v2.8M558.16 619.9v-2.8M558.16 343.85v2.8M585.80 619.9v-2.8M585.80 343.85v2.8M599.61 619.9v-2.8M599.61 343.85v2.8M613.42 619.9v-2.8M613.42 343.85v2.8M641.05 619.9v-2.8M641.05 343.85v2.8M654.87 619.9v-2.8M654.87 343.85v2.8M668.68 619.9v-2.8M668.68 343.85v2.8" stroke="#111" stroke-width="1.0" fill="none"/>
<path d="M406.2 604.56h4.6M682.5 604.56h-4.6M406.2 543.22h4.6M682.5 543.22h-4.6M406.2 481.88h4.6M682.5 481.88h-4.6M406.2 420.53h4.6M682.5 420.53h-4.6M406.2 359.19h4.6M682.5 359.19h-4.6M406.2 589.23h2.8M682.5 589.23h-2.8M406.2 573.89h2.8M682.5 573.89h-2.8M406.2 558.56h2.8M682.5 558.56h-2.8M406.2 527.88h2.8M682.5 527.88h-2.8M406.2 512.55h2.8M682.5 512.55h-2.8M406.2 497.21h2.8M682.5 497.21h-2.8M406.2 466.54h2.8M682.5 466.54h-2.8M406.2 451.20h2.8M682.5 451.20h-2.8M406.2 435.87h2.8M682.5 435.87h-2.8M406.2 405.19h2.8M682.5 405.19h-2.8M406.2 389.86h2.8M682.5 389.86h-2.8M406.2 374.52h2.8M682.5 374.52h-2.8" stroke="#111" stroke-width="1.0" fill="none"/>
<text x="406.2" y="637" font-size="19" text-anchor="middle" fill="#111" >0</text>
<text x="461.5" y="637" font-size="19" text-anchor="middle" fill="#111" >0.2</text>
<text x="516.7" y="637" font-size="19" text-anchor="middle" fill="#111" >0.4</text>
<text x="572.0" y="637" font-size="19" text-anchor="middle" fill="#111" >0.6</text>
<text x="627.2" y="637" font-size="19" text-anchor="middle" fill="#111" >0.8</text>
<path transform="translate(677.22,637) scale(0.009277,-0.009277)" d="M806 0H525V1059Q371 915 162 846V1101Q272 1137 401 1237.5Q530 1338 578 1472H806Z" fill="#111"/>
<text x="404.5" y="610.9" font-size="19" text-anchor="end" fill="#111" >0</text>
<text x="404.5" y="549.5" font-size="19" text-anchor="end" fill="#111" >0.02</text>
<text x="404.5" y="488.2" font-size="19" text-anchor="end" fill="#111" >0.04</text>
<text x="404.5" y="426.8" font-size="19" text-anchor="end" fill="#111" >0.06</text>
<text x="404.5" y="365.5" font-size="19" text-anchor="end" fill="#111" >0.08</text>
<path d="M572.80 343.85V619.9" stroke="#000" stroke-width="1.8" stroke-dasharray="3.8 2.4" stroke-dashoffset="3.15" fill="none"/>
<text x="371.7" y="338.2" font-size="24.4" text-anchor="start" fill="#111" >(c)</text>
<text x="545.2" y="657" font-size="21.5" text-anchor="middle" fill="#111" >Rössler parameter <tspan font-style="italic">b</tspan></text>
<text transform="translate(362.6,490.2) rotate(-90)" font-size="21.6" text-anchor="middle" fill="#111">Lyapunov exponent [arb. units]</text>
<text x="616.6" y="367.6" font-size="21.5" text-anchor="middle" fill="#111" ><tspan font-style="italic">b</tspan><tspan font-size="15" dy="7.3">2</tspan><tspan dy="-7.3"> = 0.6</tspan></text>
</svg>
</body></html>
